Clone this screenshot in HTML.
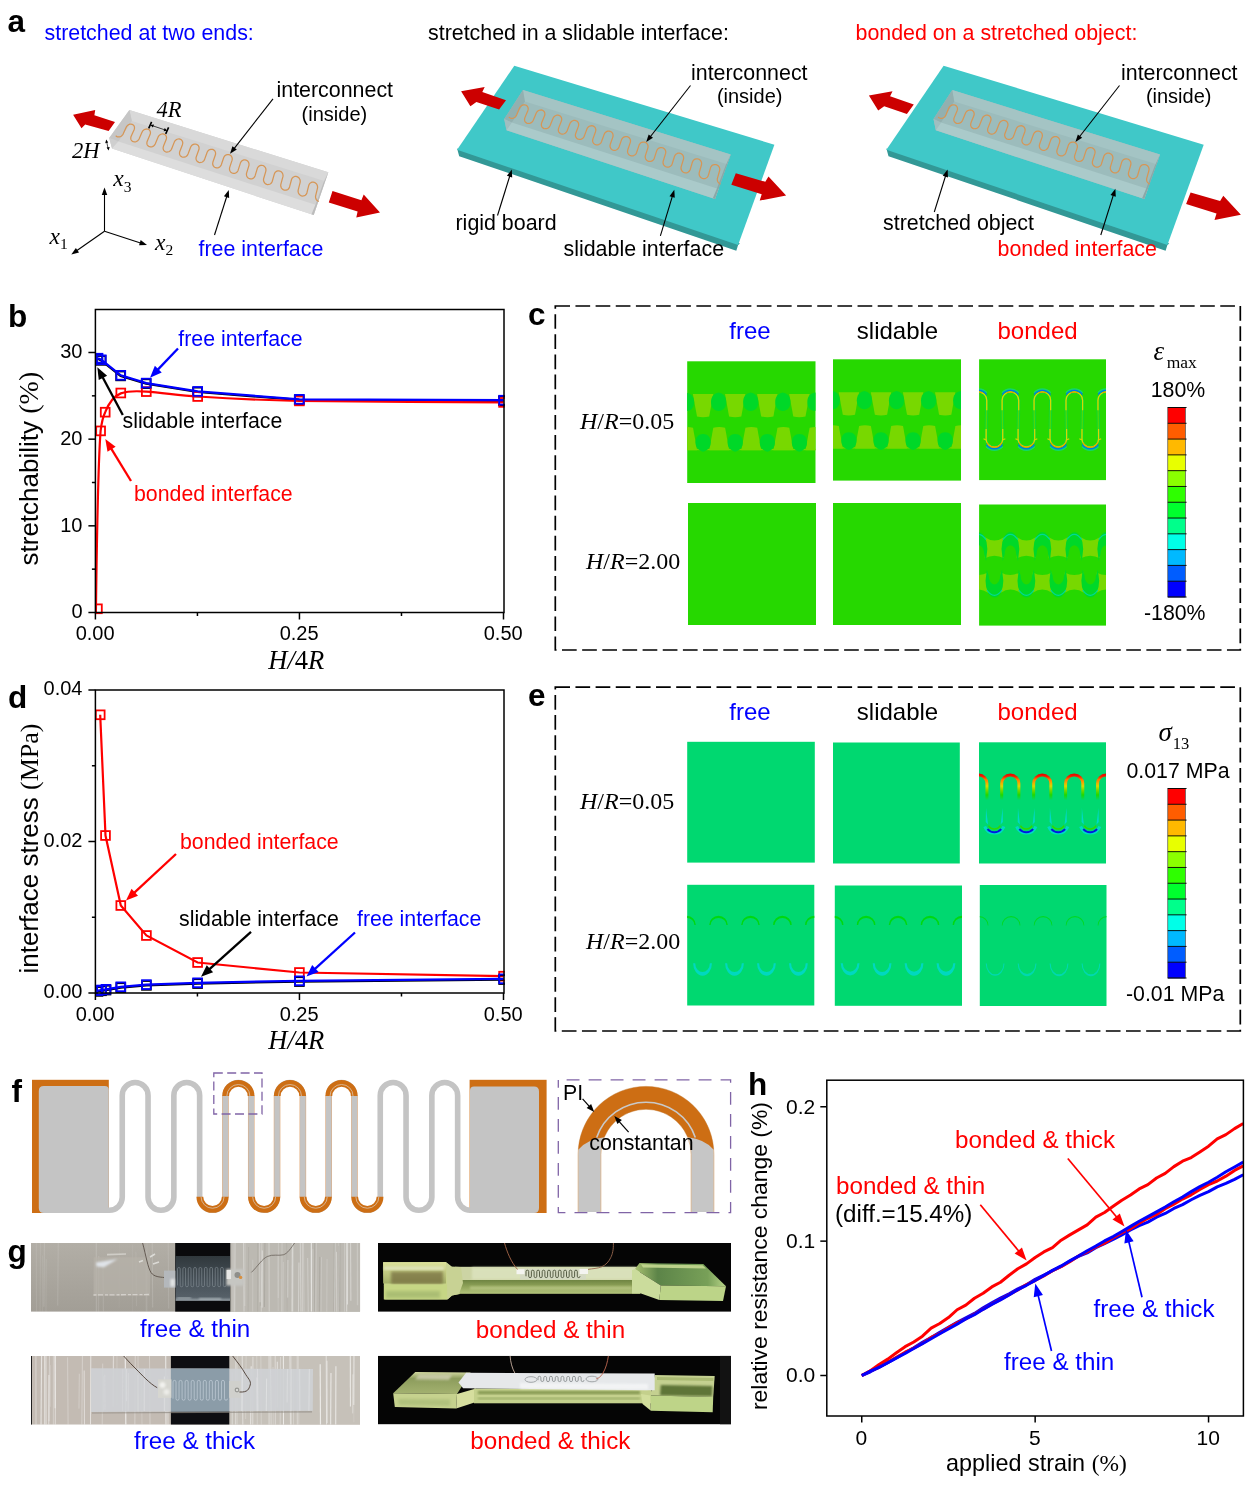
<!DOCTYPE html>
<html lang="en"><head><meta charset="utf-8"><title>Figure</title>
<style>html,body{margin:0;padding:0;background:#fff}svg{display:block}</style></head>
<body>
<svg width="1252" height="1493" viewBox="0 0 1252 1493">
<defs>
<clipPath id="clipb"><rect x="95.4" y="300" width="409.4" height="320"/></clipPath><clipPath id="clipd"><rect x="95.4" y="680" width="409.4" height="320"/></clipPath>
<clipPath id="cliph"><rect x="826.8" y="1080.2" width="416.6" height="335.8"/></clipPath>
<clipPath id="c11"><rect x="687.2" y="361.3" width="128.3" height="121.7"/></clipPath>
<clipPath id="c12"><rect x="833" y="359.3" width="128" height="121.3"/></clipPath>
<clipPath id="c13"><rect x="979.1" y="359.3" width="126.9" height="120.8"/></clipPath>
<clipPath id="c23"><rect x="979.1" y="504.5" width="126.9" height="121.1"/></clipPath>
<linearGradient id="ge13" gradientUnits="userSpaceOnUse" x1="0" y1="773.7" x2="0" y2="800.2"><stop offset="0" stop-color="#e80000"/><stop offset="0.1" stop-color="#f02000"/><stop offset="0.22" stop-color="#ff7800"/><stop offset="0.36" stop-color="#f0b000"/><stop offset="0.47" stop-color="#d8d800"/><stop offset="0.62" stop-color="#78d800"/><stop offset="0.8" stop-color="#20d800"/><stop offset="1" stop-color="#00d870"/></linearGradient>
<clipPath id="e13"><rect x="979" y="742.3" width="127" height="121.2"/></clipPath>
<clipPath id="e21"><rect x="687.2" y="884.8" width="127.1" height="120.7"/></clipPath>
<clipPath id="e22"><rect x="834.8" y="885.5" width="127.2" height="120.3"/></clipPath>
<clipPath id="e23"><rect x="979.8" y="885" width="126.7" height="121"/></clipPath>
<clipPath id="cg1"><rect x="31" y="1243" width="329.2" height="68.8"/></clipPath>
<linearGradient id="g1bg" x1="0" y1="0" x2="0" y2="1"><stop offset="0" stop-color="#b2aea6"/><stop offset="1" stop-color="#a29e96"/></linearGradient>
<linearGradient id="g1film" x1="0" y1="0" x2="0" y2="1"><stop offset="0" stop-color="#30383c"/><stop offset="0.6" stop-color="#48525a"/><stop offset="0.92" stop-color="#566068"/><stop offset="1" stop-color="#98a2a8"/></linearGradient>
<filter id="bl1" x="-20%" y="-20%" width="140%" height="140%"><feGaussianBlur stdDeviation="0.8"/></filter>
<filter id="bl2" x="-20%" y="-20%" width="140%" height="140%"><feGaussianBlur stdDeviation="1.8"/></filter>
<clipPath id="cg2"><rect x="31" y="1355.9" width="329" height="68.8"/></clipPath>
<clipPath id="cg3"><rect x="378" y="1243" width="353" height="68.8"/></clipPath>
<linearGradient id="g3a" x1="0" y1="0" x2="0" y2="1"><stop offset="0" stop-color="#dde29c"/><stop offset="0.35" stop-color="#c8d088"/><stop offset="1" stop-color="#a4b068"/></linearGradient>
<linearGradient id="g3n" x1="0" y1="0" x2="0" y2="1"><stop offset="0" stop-color="#6e8442"/><stop offset="0.45" stop-color="#8ea258"/><stop offset="1" stop-color="#b4c47c"/></linearGradient>
<linearGradient id="g3r" x1="0" y1="0" x2="1" y2="0"><stop offset="0" stop-color="#a8c070"/><stop offset="0.25" stop-color="#5c8448"/><stop offset="0.8" stop-color="#78a058"/><stop offset="1" stop-color="#b8d488"/></linearGradient>
<clipPath id="cg4"><rect x="378" y="1355.8" width="353" height="68.6"/></clipPath>
<linearGradient id="g4a" x1="0" y1="0" x2="0" y2="1"><stop offset="0" stop-color="#d2d8a0"/><stop offset="0.3" stop-color="#8c9c5c"/><stop offset="1" stop-color="#a4b270"/></linearGradient>
</defs>
<rect x="0" y="0" width="1252" height="1493" fill="#fff"/>
<g id="panel_b">
<text x="8" y="327" font-family="'Liberation Sans', Arial, sans-serif" font-size="31.5" fill="#000" font-weight="bold" >b</text>
<g clip-path="url(#clipb)">
<polyline points="97.8,358.8 101.1,360.4 120.6,375.9 146.1,383.7 197.5,392 299.2,399.9 503.4,400.8" fill="none" stroke="#000" stroke-width="2.2"/>
<rect x="93.4" y="354.4" width="8.8" height="8.8" fill="none" stroke="#000" stroke-width="1.8"/>
<rect x="96.7" y="356" width="8.8" height="8.8" fill="none" stroke="#000" stroke-width="1.8"/>
<rect x="116.2" y="371.5" width="8.8" height="8.8" fill="none" stroke="#000" stroke-width="1.8"/>
<rect x="141.7" y="379.3" width="8.8" height="8.8" fill="none" stroke="#000" stroke-width="1.8"/>
<rect x="193.1" y="387.6" width="8.8" height="8.8" fill="none" stroke="#000" stroke-width="1.8"/>
<rect x="294.8" y="395.5" width="8.8" height="8.8" fill="none" stroke="#000" stroke-width="1.8"/>
<rect x="499" y="396.4" width="8.8" height="8.8" fill="none" stroke="#000" stroke-width="1.8"/>
<path d="M95.9,612.5 C96.6,560 97.6,470 100.6,430.9 C101.8,421 103.3,416 105.2,412.2 C108.5,404 114,396 120.8,393.4 C129,390.6 138,391 146.3,391.7 C163,393 180,395.3 197.7,396.5 C231,398.7 265,400.2 299.4,400.9 C360,401.8 440,402.2 503.6,402.4" fill="none" stroke="#ff0000" stroke-width="2.2"/>
<rect x="93" y="604.4" width="8.8" height="8.8" fill="none" stroke="#ff0000" stroke-width="1.8"/>
<rect x="96.2" y="426.5" width="8.8" height="8.8" fill="none" stroke="#ff0000" stroke-width="1.8"/>
<rect x="100.8" y="407.8" width="8.8" height="8.8" fill="none" stroke="#ff0000" stroke-width="1.8"/>
<rect x="116.4" y="388.6" width="8.8" height="8.8" fill="none" stroke="#ff0000" stroke-width="1.8"/>
<rect x="141.9" y="387.2" width="8.8" height="8.8" fill="none" stroke="#ff0000" stroke-width="1.8"/>
<rect x="193.3" y="392.1" width="8.8" height="8.8" fill="none" stroke="#ff0000" stroke-width="1.8"/>
<rect x="295" y="396.5" width="8.8" height="8.8" fill="none" stroke="#ff0000" stroke-width="1.8"/>
<rect x="499.2" y="398" width="8.8" height="8.8" fill="none" stroke="#ff0000" stroke-width="1.8"/>
<polyline points="98,358.2 101.3,359.8 120.8,375.3 146.3,383.1 197.7,391.4 299.4,399.3 503.6,400.2" fill="none" stroke="#0000ff" stroke-width="2.2"/>
<rect x="93.6" y="353.8" width="8.8" height="8.8" fill="none" stroke="#0000ff" stroke-width="1.8"/>
<rect x="96.9" y="355.4" width="8.8" height="8.8" fill="none" stroke="#0000ff" stroke-width="1.8"/>
<rect x="116.4" y="370.9" width="8.8" height="8.8" fill="none" stroke="#0000ff" stroke-width="1.8"/>
<rect x="141.9" y="378.7" width="8.8" height="8.8" fill="none" stroke="#0000ff" stroke-width="1.8"/>
<rect x="193.3" y="387" width="8.8" height="8.8" fill="none" stroke="#0000ff" stroke-width="1.8"/>
<rect x="295" y="394.9" width="8.8" height="8.8" fill="none" stroke="#0000ff" stroke-width="1.8"/>
<rect x="499.2" y="395.8" width="8.8" height="8.8" fill="none" stroke="#0000ff" stroke-width="1.8"/>
</g>
<rect x="95.4" y="309.5" width="408.6" height="303" fill="none" stroke="#000" stroke-width="1.5"/>
<line x1="88.4" y1="612.5" x2="95.4" y2="612.5" stroke="#000" stroke-width="1.5"/>
<text x="82.5" y="618.3" font-family="'Liberation Sans', Arial, sans-serif" font-size="20" fill="#000" text-anchor="end" >0</text>
<line x1="88.4" y1="525.83" x2="95.4" y2="525.83" stroke="#000" stroke-width="1.5"/>
<text x="82.5" y="531.63" font-family="'Liberation Sans', Arial, sans-serif" font-size="20" fill="#000" text-anchor="end" >10</text>
<line x1="88.4" y1="439.16" x2="95.4" y2="439.16" stroke="#000" stroke-width="1.5"/>
<text x="82.5" y="444.96" font-family="'Liberation Sans', Arial, sans-serif" font-size="20" fill="#000" text-anchor="end" >20</text>
<line x1="88.4" y1="352.49" x2="95.4" y2="352.49" stroke="#000" stroke-width="1.5"/>
<text x="82.5" y="358.29" font-family="'Liberation Sans', Arial, sans-serif" font-size="20" fill="#000" text-anchor="end" >30</text>
<line x1="91.9" y1="569.16" x2="95.4" y2="569.16" stroke="#000" stroke-width="1.5"/>
<line x1="91.9" y1="482.5" x2="95.4" y2="482.5" stroke="#000" stroke-width="1.5"/>
<line x1="91.9" y1="395.83" x2="95.4" y2="395.83" stroke="#000" stroke-width="1.5"/>
<line x1="95.4" y1="612.5" x2="95.4" y2="619.5" stroke="#000" stroke-width="1.5"/>
<text x="95.1" y="640.3" font-family="'Liberation Sans', Arial, sans-serif" font-size="20" fill="#000" text-anchor="middle" >0.00</text>
<line x1="299.45" y1="612.5" x2="299.45" y2="619.5" stroke="#000" stroke-width="1.5"/>
<text x="299.15" y="640.3" font-family="'Liberation Sans', Arial, sans-serif" font-size="20" fill="#000" text-anchor="middle" >0.25</text>
<line x1="503.5" y1="612.5" x2="503.5" y2="619.5" stroke="#000" stroke-width="1.5"/>
<text x="503.2" y="640.3" font-family="'Liberation Sans', Arial, sans-serif" font-size="20" fill="#000" text-anchor="middle" >0.50</text>
<line x1="197.43" y1="612.5" x2="197.43" y2="616" stroke="#000" stroke-width="1.5"/>
<line x1="401.48" y1="612.5" x2="401.48" y2="616" stroke="#000" stroke-width="1.5"/>
<text x="268.3" y="668.9" font-family="'Liberation Serif', 'Times New Roman', serif" font-size="26.5" fill="#000"><tspan font-style="italic">H/</tspan>4<tspan font-style="italic">R</tspan></text>
<text transform="translate(38,565.5) rotate(-90)" font-size="26" fill="#000"><tspan font-family="'Liberation Sans', Arial, sans-serif">stretchability </tspan><tspan font-family="'Liberation Serif', 'Times New Roman', serif" font-size="28">(%)</tspan></text>
<text x="178.3" y="346.3" font-family="'Liberation Sans', Arial, sans-serif" font-size="21.3" fill="#0000ff" >free interface</text>
<text x="122.5" y="428" font-family="'Liberation Sans', Arial, sans-serif" font-size="21.3" fill="#000" >slidable interface</text>
<text x="134" y="500.5" font-family="'Liberation Sans', Arial, sans-serif" font-size="21.3" fill="#ff0000" >bonded interface</text>
<line x1="178" y1="348.5" x2="156.63" y2="370.86" stroke="#0000ff" stroke-width="2.3"/><polygon points="150,377.8 154.86,365.84 161.72,372.41" fill="#0000ff"/>
<line x1="122.8" y1="415" x2="101.83" y2="375.77" stroke="#000" stroke-width="2.3"/><polygon points="97.3,367.3 107.15,375.64 98.77,380.12" fill="#000"/>
<line x1="131" y1="481" x2="110.31" y2="447.19" stroke="#ff0000" stroke-width="2.3"/><polygon points="105.3,439 115.61,446.76 107.51,451.71" fill="#ff0000"/>
</g>
<g id="panel_d">
<text x="8" y="708" font-family="'Liberation Sans', Arial, sans-serif" font-size="31.5" fill="#000" font-weight="bold" >d</text>
<g clip-path="url(#clipd)">
<polyline points="100.2,714.8 105.5,835.5 120.8,905.5 146.4,935.5 197.6,962.5 299.4,972.5 503.6,976.2" fill="none" stroke="#ff0000" stroke-width="2.2"/>
<rect x="95.8" y="710.4" width="8.8" height="8.8" fill="none" stroke="#ff0000" stroke-width="1.8"/>
<rect x="101.1" y="831.1" width="8.8" height="8.8" fill="none" stroke="#ff0000" stroke-width="1.8"/>
<rect x="116.4" y="901.1" width="8.8" height="8.8" fill="none" stroke="#ff0000" stroke-width="1.8"/>
<rect x="142" y="931.1" width="8.8" height="8.8" fill="none" stroke="#ff0000" stroke-width="1.8"/>
<rect x="193.2" y="958.1" width="8.8" height="8.8" fill="none" stroke="#ff0000" stroke-width="1.8"/>
<rect x="295" y="968.1" width="8.8" height="8.8" fill="none" stroke="#ff0000" stroke-width="1.8"/>
<rect x="499.2" y="971.8" width="8.8" height="8.8" fill="none" stroke="#ff0000" stroke-width="1.8"/>
<polyline points="98,991.4 101.5,990.8 106,990.1 120.8,987.6 146.4,985.4 197.6,983.6 299.4,981.6 503.6,979.6" fill="none" stroke="#000" stroke-width="2.2"/>
<rect x="93.6" y="987" width="8.8" height="8.8" fill="none" stroke="#000" stroke-width="1.8"/>
<rect x="97.1" y="986.4" width="8.8" height="8.8" fill="none" stroke="#000" stroke-width="1.8"/>
<rect x="101.6" y="985.7" width="8.8" height="8.8" fill="none" stroke="#000" stroke-width="1.8"/>
<rect x="116.4" y="983.2" width="8.8" height="8.8" fill="none" stroke="#000" stroke-width="1.8"/>
<rect x="142" y="981" width="8.8" height="8.8" fill="none" stroke="#000" stroke-width="1.8"/>
<rect x="193.2" y="979.2" width="8.8" height="8.8" fill="none" stroke="#000" stroke-width="1.8"/>
<rect x="295" y="977.2" width="8.8" height="8.8" fill="none" stroke="#000" stroke-width="1.8"/>
<rect x="499.2" y="975.2" width="8.8" height="8.8" fill="none" stroke="#000" stroke-width="1.8"/>
<polyline points="98,990.6 101.5,990 106,989.3 120.8,986.8 146.4,984.6 197.6,982.8 299.4,980.8 503.6,978.8" fill="none" stroke="#0000ff" stroke-width="2.2"/>
<rect x="93.6" y="986.2" width="8.8" height="8.8" fill="none" stroke="#0000ff" stroke-width="1.8"/>
<rect x="97.1" y="985.6" width="8.8" height="8.8" fill="none" stroke="#0000ff" stroke-width="1.8"/>
<rect x="101.6" y="984.9" width="8.8" height="8.8" fill="none" stroke="#0000ff" stroke-width="1.8"/>
<rect x="116.4" y="982.4" width="8.8" height="8.8" fill="none" stroke="#0000ff" stroke-width="1.8"/>
<rect x="142" y="980.2" width="8.8" height="8.8" fill="none" stroke="#0000ff" stroke-width="1.8"/>
<rect x="193.2" y="978.4" width="8.8" height="8.8" fill="none" stroke="#0000ff" stroke-width="1.8"/>
<rect x="295" y="976.4" width="8.8" height="8.8" fill="none" stroke="#0000ff" stroke-width="1.8"/>
<rect x="499.2" y="974.4" width="8.8" height="8.8" fill="none" stroke="#0000ff" stroke-width="1.8"/>
</g>
<rect x="95.4" y="690" width="408.6" height="303" fill="none" stroke="#000" stroke-width="1.5"/>
<line x1="88.4" y1="993" x2="95.4" y2="993" stroke="#000" stroke-width="1.5"/>
<text x="82.5" y="998.2" font-family="'Liberation Sans', Arial, sans-serif" font-size="20" fill="#000" text-anchor="end" >0.00</text>
<line x1="88.4" y1="841.5" x2="95.4" y2="841.5" stroke="#000" stroke-width="1.5"/>
<text x="82.5" y="846.7" font-family="'Liberation Sans', Arial, sans-serif" font-size="20" fill="#000" text-anchor="end" >0.02</text>
<line x1="88.4" y1="690" x2="95.4" y2="690" stroke="#000" stroke-width="1.5"/>
<text x="82.5" y="695.2" font-family="'Liberation Sans', Arial, sans-serif" font-size="20" fill="#000" text-anchor="end" >0.04</text>
<line x1="91.9" y1="917.25" x2="95.4" y2="917.25" stroke="#000" stroke-width="1.5"/>
<line x1="91.9" y1="765.75" x2="95.4" y2="765.75" stroke="#000" stroke-width="1.5"/>
<line x1="95.4" y1="993" x2="95.4" y2="1000" stroke="#000" stroke-width="1.5"/>
<text x="95.1" y="1020.8" font-family="'Liberation Sans', Arial, sans-serif" font-size="20" fill="#000" text-anchor="middle" >0.00</text>
<line x1="299.45" y1="993" x2="299.45" y2="1000" stroke="#000" stroke-width="1.5"/>
<text x="299.15" y="1020.8" font-family="'Liberation Sans', Arial, sans-serif" font-size="20" fill="#000" text-anchor="middle" >0.25</text>
<line x1="503.5" y1="993" x2="503.5" y2="1000" stroke="#000" stroke-width="1.5"/>
<text x="503.2" y="1020.8" font-family="'Liberation Sans', Arial, sans-serif" font-size="20" fill="#000" text-anchor="middle" >0.50</text>
<line x1="197.43" y1="993" x2="197.43" y2="996.5" stroke="#000" stroke-width="1.5"/>
<line x1="401.48" y1="993" x2="401.48" y2="996.5" stroke="#000" stroke-width="1.5"/>
<text x="268.3" y="1049.4" font-family="'Liberation Serif', 'Times New Roman', serif" font-size="26.5" fill="#000"><tspan font-style="italic">H/</tspan>4<tspan font-style="italic">R</tspan></text>
<text transform="translate(37.5,973.5) rotate(-90)" font-size="26" fill="#000"><tspan font-family="'Liberation Sans', Arial, sans-serif">interface stress </tspan><tspan font-family="'Liberation Serif', 'Times New Roman', serif">(MPa)</tspan></text>
<text x="180" y="849.3" font-family="'Liberation Sans', Arial, sans-serif" font-size="21.3" fill="#ff0000" >bonded interface</text>
<text x="179" y="925.5" font-family="'Liberation Sans', Arial, sans-serif" font-size="21.3" fill="#000" >slidable interface</text>
<text x="357" y="925.5" font-family="'Liberation Sans', Arial, sans-serif" font-size="21.3" fill="#0000ff" >free interface</text>
<line x1="176" y1="854" x2="133.03" y2="893.96" stroke="#ff0000" stroke-width="2.3"/><polygon points="126,900.5 131.55,888.85 138.02,895.81" fill="#ff0000"/>
<line x1="251" y1="931.8" x2="208.14" y2="970.38" stroke="#000" stroke-width="2.3"/><polygon points="201,976.8 206.74,965.24 213.1,972.3" fill="#000"/>
<line x1="355" y1="932.5" x2="313.61" y2="970.05" stroke="#0000ff" stroke-width="2.3"/><polygon points="306.5,976.5 312.2,964.92 318.58,971.96" fill="#0000ff"/>
</g>
<g id="panel_h">
<text x="748" y="1095.3" font-family="'Liberation Sans', Arial, sans-serif" font-size="31.5" fill="#000" font-weight="bold" >h</text>
<g clip-path="url(#cliph)">
<polyline points="861.75,1375.5 870.42,1370.82 879.09,1364.49 887.76,1359.14 896.43,1352.69 905.1,1346.67 913.77,1342.03 922.44,1336.14 931.11,1328.13 939.78,1323.51 948.45,1317.58 957.12,1309.76 965.79,1305.07 974.46,1298.25 983.13,1293.2 991.8,1286.92 1000.47,1282.23 1009.14,1275.21 1017.81,1268.81 1026.48,1263.84 1035.15,1257.52 1043.82,1251.92 1052.49,1247.63 1061.16,1240.22 1069.83,1234.9 1078.5,1229.9 1087.17,1224.87 1095.84,1217.19 1104.51,1212.48 1113.18,1206.25 1121.85,1200.24 1130.52,1195.03 1139.19,1188.93 1147.86,1184.61 1156.53,1178.05 1165.2,1173.35 1173.87,1166.61 1182.54,1161.2 1191.21,1157.54 1199.88,1151.92 1208.55,1146.19 1217.22,1138.86 1225.89,1134.61 1234.56,1128.63 1243.23,1123.42" fill="none" stroke="#ff0000" stroke-width="3" stroke-linejoin="round"/>
<polyline points="861.75,1375.5 870.42,1371.76 879.09,1367.16 887.76,1362.65 896.43,1357.86 905.1,1352.69 913.77,1347.7 922.44,1342.35 931.11,1337.57 939.78,1332.31 948.45,1327.41 957.12,1322.31 965.79,1317.73 974.46,1313.39 983.13,1307.79 991.8,1302.86 1000.47,1298.14 1009.14,1293.75 1017.81,1288.88 1026.48,1284.73 1035.15,1279.4 1043.82,1275.05 1052.49,1270.76 1061.16,1266.43 1069.83,1261.04 1078.5,1256.37 1087.17,1252.85 1095.84,1247.62 1104.51,1243.6 1113.18,1239.46 1121.85,1234.91 1130.52,1230.03 1139.19,1225.56 1147.86,1222.11 1156.53,1217.18 1165.2,1213.49 1173.87,1208.48 1182.54,1204.62 1191.21,1199.77 1199.88,1195.41 1208.55,1191.67 1217.22,1186.9 1225.89,1183.41 1234.56,1179.43 1243.23,1174.75" fill="none" stroke="#0000ff" stroke-width="3" stroke-linejoin="round"/>
<polyline points="861.75,1375.5 870.42,1370.91 879.09,1367.25 887.76,1362.32 896.43,1357.26 905.1,1352.17 913.77,1348.12 922.44,1343.51 931.11,1337.38 939.78,1333.47 948.45,1327.63 957.12,1322.93 965.79,1318.97 974.46,1314.05 983.13,1309.17 991.8,1304.19 1000.47,1299.48 1009.14,1294.77 1017.81,1289.89 1026.48,1284.6 1035.15,1280.53 1043.82,1275.88 1052.49,1270.64 1061.16,1266.65 1069.83,1261.77 1078.5,1255.91 1087.17,1251.87 1095.84,1247.06 1104.51,1243.15 1113.18,1237.72 1121.85,1232.68 1130.52,1228.81 1139.19,1223.07 1147.86,1218.27 1156.53,1214.41 1165.2,1208.72 1173.87,1204.2 1182.54,1199.07 1191.21,1194.82 1199.88,1189.46 1208.55,1184.63 1217.22,1181 1225.89,1176.16 1234.56,1170.38 1243.23,1165.88" fill="none" stroke="#ff0000" stroke-width="3" stroke-linejoin="round"/>
<polyline points="861.75,1375.5 870.42,1371.18 879.09,1367.45 887.76,1362.76 896.43,1357.96 905.1,1353.4 913.77,1348.53 922.44,1343.7 931.11,1338.77 939.78,1333.7 948.45,1329.05 957.12,1324.1 965.79,1318.91 974.46,1314.64 983.13,1309.33 991.8,1304.34 1000.47,1299.82 1009.14,1295.04 1017.81,1289.71 1026.48,1285.31 1035.15,1280.49 1043.82,1275.43 1052.49,1270.35 1061.16,1265.96 1069.83,1260.91 1078.5,1256.02 1087.17,1250.73 1095.84,1246.15 1104.51,1240.92 1113.18,1236.57 1121.85,1231.52 1130.52,1226.35 1139.19,1221.23 1147.86,1216.65 1156.53,1211.9 1165.2,1207.04 1173.87,1201.77 1182.54,1197.09 1191.21,1191.64 1199.88,1186.66 1208.55,1182.23 1217.22,1177.19 1225.89,1171.8 1234.56,1166.97 1243.23,1162.12" fill="none" stroke="#0000ff" stroke-width="3" stroke-linejoin="round"/>
</g>
<rect x="826.8" y="1080.2" width="416.6" height="335.8" fill="none" stroke="#000" stroke-width="1.5"/>
<line x1="820.3" y1="1375.5" x2="826.8" y2="1375.5" stroke="#000" stroke-width="1.5"/>
<text x="815.3" y="1382.4" font-family="'Liberation Sans', Arial, sans-serif" font-size="21" fill="#000" text-anchor="end" >0.0</text>
<line x1="820.3" y1="1241.13" x2="826.8" y2="1241.13" stroke="#000" stroke-width="1.5"/>
<text x="815.3" y="1248.03" font-family="'Liberation Sans', Arial, sans-serif" font-size="21" fill="#000" text-anchor="end" >0.1</text>
<line x1="820.3" y1="1106.76" x2="826.8" y2="1106.76" stroke="#000" stroke-width="1.5"/>
<text x="815.3" y="1113.66" font-family="'Liberation Sans', Arial, sans-serif" font-size="21" fill="#000" text-anchor="end" >0.2</text>
<line x1="861.75" y1="1416" x2="861.75" y2="1422.5" stroke="#000" stroke-width="1.5"/>
<text x="861.45" y="1444.8" font-family="'Liberation Sans', Arial, sans-serif" font-size="21" fill="#000" text-anchor="middle" >0</text>
<line x1="1035.15" y1="1416" x2="1035.15" y2="1422.5" stroke="#000" stroke-width="1.5"/>
<text x="1034.85" y="1444.8" font-family="'Liberation Sans', Arial, sans-serif" font-size="21" fill="#000" text-anchor="middle" >5</text>
<line x1="1208.55" y1="1416" x2="1208.55" y2="1422.5" stroke="#000" stroke-width="1.5"/>
<text x="1208.25" y="1444.8" font-family="'Liberation Sans', Arial, sans-serif" font-size="21" fill="#000" text-anchor="middle" >10</text>
<text x="946" y="1470.8" font-size="23.4" fill="#000"><tspan font-family="'Liberation Sans', Arial, sans-serif">applied strain </tspan><tspan font-family="'Liberation Serif', 'Times New Roman', serif">(%)</tspan></text>
<text transform="translate(767,1410) rotate(-90)" font-size="22.9" fill="#000" font-family="'Liberation Sans', Arial, sans-serif">relative resistance change (%)</text>
<text x="955" y="1148.2" font-family="'Liberation Sans', Arial, sans-serif" font-size="24.2" fill="#ff0000" >bonded &amp; thick</text>
<text x="836" y="1194" font-family="'Liberation Sans', Arial, sans-serif" font-size="24.2" fill="#ff0000" >bonded &amp; thin</text>
<text x="835" y="1222.3" font-family="'Liberation Sans', Arial, sans-serif" font-size="24.2" fill="#000" >(diff.=15.4%)</text>
<text x="1093.5" y="1317.3" font-family="'Liberation Sans', Arial, sans-serif" font-size="24.2" fill="#0000ff" >free &amp; thick</text>
<text x="1004" y="1370.3" font-family="'Liberation Sans', Arial, sans-serif" font-size="24.2" fill="#0000ff" >free &amp; thin</text>
<line x1="980.3" y1="1204.8" x2="1019.95" y2="1252.5" stroke="#ff0000" stroke-width="1.7"/><polygon points="1026.6,1260.5 1014.64,1253.54 1021.94,1247.47" fill="#ff0000"/>
<line x1="1067.8" y1="1158.5" x2="1117.84" y2="1218.51" stroke="#ff0000" stroke-width="1.7"/><polygon points="1124.5,1226.5 1112.53,1219.56 1119.82,1213.47" fill="#ff0000"/>
<line x1="1142" y1="1297.3" x2="1128.4" y2="1239.92" stroke="#0000ff" stroke-width="1.7"/><polygon points="1126,1229.8 1133.62,1241.35 1124.38,1243.55" fill="#0000ff"/>
<line x1="1051.5" y1="1351" x2="1037.73" y2="1293.61" stroke="#0000ff" stroke-width="1.7"/><polygon points="1035.3,1283.5 1042.95,1295.03 1033.72,1297.25" fill="#0000ff"/>
</g>
<g id="panel_a">
<text x="7.5" y="32" font-family="'Liberation Sans', Arial, sans-serif" font-size="31.5" fill="#000" font-weight="bold" >a</text>
<text x="44.5" y="40" font-family="'Liberation Sans', Arial, sans-serif" font-size="21.4" fill="#0000ff" >stretched at two ends:</text>
<text x="428" y="40" font-family="'Liberation Sans', Arial, sans-serif" font-size="21.4" fill="#000" >stretched in a slidable interface:</text>
<text x="855.5" y="40" font-family="'Liberation Sans', Arial, sans-serif" font-size="21.4" fill="#ff0000" >bonded on a stretched object:</text>
<polygon points="129.4,110.1 328.3,172.2 313.7,215.1 112,148.6 109.2,138" fill="#d1d1d1" />
<polygon points="129.4,110.1 328.3,172.2 325.2,181.2 131.9,121" fill="#d9d9d9" />
<polygon points="129.4,110.1 131.9,121 118.4,141.4 109.2,138" fill="#c6c6c6" />
<polygon points="109.2,138 118.4,141.4 112,148.6" fill="#cfcfcf" />
<polygon points="118.4,141.4 317,205.3 313.7,215.1 112,148.6" fill="#dddddd" />
<polygon points="328.3,172.2 313.7,215.1 311.5,214.3 315.4,204.7 323.4,182.7" fill="#bcbcbc" />
<path d="M116.09,136.05 L116.53,136.39 L117.02,136.65 L117.56,136.84 L118.13,136.94 L118.73,136.97 L119.33,136.91 L119.94,136.76 L120.53,136.54 L121.1,136.24 L121.63,135.87 L122.12,135.44 L122.55,134.95 L122.92,134.42 L123.22,133.86 L126.2,127.24 L126.71,126.35 L127.39,125.56 L128.22,124.92 L129.13,124.45 L130.1,124.19 L131.08,124.14 L132,124.3 L132.83,124.67 L133.53,125.23 L134.06,125.96 L134.39,126.8 L134.52,127.74 L134.42,128.7 L134.11,129.66 L131.16,136.29 L130.85,137.25 L130.75,138.22 L130.88,139.15 L131.23,140 L131.77,140.74 L132.49,141.31 L133.34,141.69 L134.28,141.86 L135.26,141.82 L136.24,141.56 L137.17,141.1 L137.99,140.46 L138.67,139.67 L139.18,138.77 L142.07,132.11 L142.57,131.21 L143.25,130.42 L144.07,129.77 L144.99,129.31 L145.95,129.04 L146.93,128.99 L147.86,129.16 L148.7,129.54 L149.41,130.11 L149.96,130.84 L150.31,131.7 L150.45,132.64 L150.37,133.61 L150.07,134.58 L147.23,141.27 L146.94,142.24 L146.86,143.22 L147.01,144.16 L147.37,145.02 L147.93,145.76 L148.65,146.34 L149.51,146.73 L150.46,146.91 L151.45,146.86 L152.43,146.6 L153.35,146.14 L154.16,145.49 L154.83,144.7 L155.32,143.8 L158.11,137.07 L158.6,136.16 L159.26,135.37 L160.07,134.72 L160.98,134.25 L161.95,133.98 L162.92,133.93 L163.86,134.11 L164.71,134.49 L165.44,135.06 L165.99,135.8 L166.36,136.67 L166.52,137.62 L166.46,138.61 L166.18,139.58 L163.44,146.34 L163.17,147.31 L163.11,148.3 L163.27,149.25 L163.65,150.12 L164.22,150.87 L164.96,151.46 L165.83,151.85 L166.78,152.03 L167.77,151.99 L168.75,151.73 L169.67,151.26 L170.47,150.61 L171.13,149.81 L171.6,148.9 L174.28,142.11 L174.76,141.2 L175.41,140.4 L176.21,139.74 L177.12,139.27 L178.08,139 L179.06,138.96 L180,139.13 L180.87,139.52 L181.6,140.1 L182.17,140.85 L182.56,141.73 L182.73,142.69 L182.69,143.68 L182.42,144.66 L179.8,151.48 L179.54,152.46 L179.5,153.46 L179.68,154.43 L180.07,155.31 L180.66,156.06 L181.41,156.66 L182.29,157.05 L183.25,157.24 L184.24,157.2 L185.22,156.94 L186.13,156.47 L186.92,155.82 L187.57,155.01 L188.03,154.09 L190.6,147.24 L191.06,146.32 L191.7,145.51 L192.49,144.85 L193.39,144.38 L194.36,144.11 L195.34,144.06 L196.29,144.24 L197.16,144.64 L197.91,145.23 L198.49,145.98 L198.89,146.87 L199.08,147.84 L199.06,148.84 L198.81,149.83 L196.3,156.71 L196.05,157.7 L196.02,158.71 L196.22,159.68 L196.63,160.57 L197.23,161.34 L198,161.94 L198.89,162.34 L199.85,162.53 L200.85,162.49 L201.82,162.23 L202.73,161.76 L203.52,161.1 L204.15,160.29 L204.6,159.36 L207.06,152.45 L207.5,151.52 L208.13,150.7 L208.91,150.04 L209.81,149.56 L210.77,149.3 L211.76,149.25 L212.71,149.44 L213.59,149.83 L214.35,150.43 L214.96,151.2 L215.37,152.09 L215.58,153.07 L215.57,154.09 L215.34,155.08 L212.93,162.02 L212.7,163.02 L212.69,164.04 L212.91,165.02 L213.34,165.92 L213.95,166.7 L214.73,167.3 L215.63,167.71 L216.6,167.9 L217.6,167.87 L218.57,167.61 L219.47,167.13 L220.25,166.47 L220.87,165.65 L221.3,164.71 L223.65,157.74 L224.09,156.8 L224.7,155.98 L225.48,155.31 L226.37,154.83 L227.33,154.57 L228.32,154.52 L229.28,154.71 L230.17,155.12 L230.94,155.72 L231.56,156.49 L231.99,157.4 L232.22,158.39 L232.22,159.41 L232.01,160.42 L229.71,167.42 L229.5,168.43 L229.51,169.45 L229.74,170.44 L230.18,171.35 L230.81,172.14 L231.6,172.75 L232.51,173.17 L233.49,173.36 L234.49,173.33 L235.46,173.06 L236.35,172.59 L237.12,171.92 L237.73,171.09 L238.15,170.15 L240.39,163.12 L240.81,162.17 L241.42,161.34 L242.18,160.67 L243.07,160.19 L244.03,159.92 L245.02,159.88 L245.98,160.07 L246.88,160.48 L247.67,161.09 L248.3,161.87 L248.75,162.79 L248.99,163.78 L249.01,164.82 L248.82,165.83 L246.63,172.9 L246.43,173.91 L246.46,174.95 L246.71,175.95 L247.17,176.87 L247.81,177.66 L248.61,178.28 L249.53,178.7 L250.52,178.9 L251.52,178.87 L252.49,178.61 L253.38,178.13 L254.14,177.45 L254.74,176.62 L255.14,175.67 L257.27,168.57 L257.68,167.62 L258.27,166.79 L259.03,166.11 L259.91,165.62 L260.87,165.35 L261.86,165.32 L262.83,165.51 L263.74,165.93 L264.54,166.55 L265.19,167.34 L265.65,168.26 L265.91,169.27 L265.95,170.31 L265.77,171.33 L263.69,178.46 L263.51,179.48 L263.55,180.53 L263.82,181.54 L264.29,182.47 L264.95,183.27 L265.77,183.89 L266.69,184.32 L267.69,184.52 L268.69,184.49 L269.66,184.23 L270.54,183.75 L271.3,183.07 L271.88,182.23 L272.27,181.27 L274.3,174.12 L274.68,173.16 L275.27,172.31 L276.01,171.63 L276.89,171.14 L277.85,170.87 L278.84,170.84 L279.82,171.03 L280.74,171.46 L281.55,172.08 L282.21,172.88 L282.69,173.81 L282.97,174.83 L283.03,175.88 L282.86,176.92 L280.89,184.1 L280.73,185.13 L280.79,186.19 L281.07,187.21 L281.56,188.15 L282.24,188.95 L283.06,189.59 L284,190.02 L285,190.23 L286,190.2 L286.97,189.94 L287.85,189.45 L288.59,188.77 L289.17,187.92 L289.54,186.95 L291.46,179.74 L291.83,178.77 L292.4,177.92 L293.14,177.24 L294.01,176.74 L294.97,176.47 L295.96,176.44 L296.95,176.64 L297.88,177.07 L298.7,177.7 L299.38,178.51 L299.88,179.45 L300.17,180.48 L300.24,181.54 L300.09,182.58 L298.23,189.83 L298.08,190.87 L298.16,191.93 L298.46,192.96 L298.97,193.91 L299.66,194.73 L300.5,195.37 L301.44,195.81 L302.45,196.02 L303.46,195.99 L304.42,195.72 L305.3,195.24 L306.03,194.55 L306.6,193.69 L306.96,192.72 L308.76,185.45 L309.12,184.47 L309.68,183.61 L310.41,182.92 L311.27,182.43 L312.23,182.16 L313.23,182.12 L314.22,182.33 L315.16,182.76 L315.99,183.4 L316.68,184.22 L317.19,185.17 L317.5,186.2 L317.59,187.27 L317.45,188.32 L315.67,195.61 L315.54,196.42 L315.55,197.25 L315.7,198.08 L315.97,198.87 L316.37,199.61 L316.88,200.27 L317.49,200.84 L318.17,201.29" fill="none" stroke="#d69656" stroke-width="1.25" stroke-linejoin="round" stroke-linecap="round"/>
<polygon points="73.1,114.8 95.2,110.1 94.4,115.2 115,121.9 108.6,131.1 85.2,124.4 81.5,128.2" fill="#cc0000" />
<polygon points="380,212.6 356.3,217.6 357.6,211.5 328.8,202.6 332.5,191.1 361.4,200.3 363.7,194.5" fill="#cc0000" />
<text x="276.5" y="97" font-family="'Liberation Sans', Arial, sans-serif" font-size="21.4" fill="#000" >interconnect</text>
<text x="301.6" y="121.3" font-family="'Liberation Sans', Arial, sans-serif" font-size="20" fill="#000" >(inside)</text>
<text x="198.5" y="256" font-family="'Liberation Sans', Arial, sans-serif" font-size="21.4" fill="#0000ff" >free interface</text>
<line x1="273" y1="98.8" x2="233.7" y2="149.07" stroke="#000" stroke-width="1.1"/><polygon points="230,153.8 232.45,146.2 236.79,149.59" fill="#000"/>
<line x1="214.5" y1="235" x2="226.98" y2="195.72" stroke="#000" stroke-width="1.1"/><polygon points="228.8,190 229.15,197.98 223.91,196.31" fill="#000"/>
<text x="156.5" y="117" font-family="'Liberation Serif', 'Times New Roman', serif" font-size="22.5" fill="#000" font-style="italic" >4R</text>
<text x="72" y="158" font-family="'Liberation Serif', 'Times New Roman', serif" font-size="22.5" fill="#000" font-style="italic" >2H</text>
<path d="M151.6,121.8 L148.7,128.3 M168.6,127.3 L165.7,133.8" stroke="#000" stroke-width="1.6" fill="none"/>
<line x1="151.5" y1="125.4" x2="165.8" y2="130.2" stroke="#000" stroke-width="0.7"/>
<polygon points="150.4,125 154,124.4 152.9,127.6" fill="#000" />
<polygon points="167.2,130.7 163.6,131.2 164.7,128" fill="#000" />
<line x1="106.6" y1="141.5" x2="108.2" y2="149" stroke="#000" stroke-width="0.7"/>
<polygon points="106.2,139.6 108.2,142.6 105.2,143.2" fill="#000" />
<polygon points="108.6,150.6 106.6,147.6 109.7,147" fill="#000" />
<line x1="104.5" y1="231.3" x2="104.5" y2="193.5" stroke="#000" stroke-width="1.1"/><polygon points="104.5,187.5 107.25,195 101.75,195" fill="#000"/>
<line x1="104.5" y1="231.3" x2="76.22" y2="251.06" stroke="#000" stroke-width="1.1"/><polygon points="71.3,254.5 75.87,247.95 79.02,252.46" fill="#000"/>
<line x1="104.5" y1="231.3" x2="141.29" y2="243.16" stroke="#000" stroke-width="1.1"/><polygon points="147,245 139.02,245.32 140.71,240.08" fill="#000"/>
<text x="113.2" y="186.3" font-family="'Liberation Serif', 'Times New Roman', serif" font-size="23.5" fill="#000"><tspan font-style="italic">x</tspan><tspan font-size="15.5" dy="5.3">3</tspan></text>
<text x="49.5" y="243.8" font-family="'Liberation Serif', 'Times New Roman', serif" font-size="23.5" fill="#000"><tspan font-style="italic">x</tspan><tspan font-size="15.5" dy="5.3">1</tspan></text>
<text x="155" y="250" font-family="'Liberation Serif', 'Times New Roman', serif" font-size="23.5" fill="#000"><tspan font-style="italic">x</tspan><tspan font-size="15.5" dy="5.3">2</tspan></text>
<polygon points="457.1,148.6 740,243.4 738.1,244.9 736.3,250.7 459.2,156.2" fill="#329896" />
<polygon points="514.3,65.7 774.4,144.7 738.1,244.9 457.1,149.8" fill="#40c8c8" />
<polygon points="522.95,90.1 730.7,154.6 715,199 506.5,130.3 504.2,119.1" fill="#9cbcbc" />
<polygon points="522.95,90.1 730.7,154.6 727.3,164.2 524.9,101.5" fill="#a4c4c4" />
<polygon points="522.95,90.1 524.9,101.5 511.8,122.5 504.2,119.1" fill="#92b0b0" />
<polygon points="504.2,119.1 511.8,122.5 506.5,130.3" fill="#a0bec0" />
<polygon points="511.8,122.5 718.6,188.9 715,199 506.5,130.3" fill="#aacaca" />
<polygon points="730.7,154.6 715,199 712.8,198.2 717,188.3 725.5,165.7" fill="#8aa8a8" /><path d="M509.23,117.36 L509.7,117.71 L510.22,117.99 L510.79,118.19 L511.39,118.3 L512.01,118.33 L512.64,118.27 L513.26,118.12 L513.87,117.88 L514.46,117.57 L515,117.18 L515.5,116.73 L515.94,116.21 L516.31,115.66 L516.6,115.06 L519.53,108.08 L520.05,107.15 L520.74,106.32 L521.58,105.64 L522.52,105.15 L523.52,104.88 L524.53,104.82 L525.5,105 L526.38,105.39 L527.12,105.99 L527.68,106.75 L528.05,107.64 L528.2,108.63 L528.12,109.64 L527.82,110.65 L524.91,117.63 L524.61,118.64 L524.53,119.66 L524.68,120.64 L525.06,121.54 L525.64,122.31 L526.39,122.91 L527.28,123.31 L528.26,123.49 L529.28,123.44 L530.29,123.17 L531.24,122.68 L532.08,122.01 L532.78,121.18 L533.28,120.24 L536.16,113.23 L536.66,112.29 L537.35,111.46 L538.19,110.78 L539.13,110.29 L540.14,110.02 L541.15,109.97 L542.12,110.14 L543.01,110.54 L543.76,111.14 L544.34,111.91 L544.72,112.81 L544.88,113.79 L544.82,114.82 L544.53,115.83 L541.69,122.85 L541.4,123.86 L541.34,124.89 L541.51,125.87 L541.89,126.78 L542.49,127.55 L543.25,128.16 L544.15,128.56 L545.13,128.74 L546.16,128.7 L547.17,128.42 L548.12,127.94 L548.96,127.26 L549.64,126.43 L550.14,125.48 L552.94,118.44 L553.43,117.49 L554.11,116.66 L554.94,115.98 L555.89,115.49 L556.89,115.21 L557.91,115.16 L558.89,115.34 L559.78,115.75 L560.55,116.35 L561.14,117.12 L561.53,118.03 L561.71,119.02 L561.66,120.05 L561.38,121.06 L558.62,128.12 L558.34,129.14 L558.29,130.17 L558.47,131.17 L558.88,132.07 L559.48,132.85 L560.25,133.46 L561.16,133.87 L562.15,134.06 L563.18,134.01 L564.2,133.74 L565.15,133.25 L565.98,132.57 L566.65,131.73 L567.14,130.78 L569.86,123.7 L570.35,122.75 L571.02,121.92 L571.85,121.23 L572.79,120.74 L573.79,120.47 L574.82,120.42 L575.8,120.6 L576.71,121.01 L577.48,121.61 L578.09,122.39 L578.49,123.3 L578.68,124.3 L578.64,125.34 L578.38,126.36 L575.69,133.45 L575.43,134.48 L575.39,135.51 L575.59,136.51 L576,137.43 L576.62,138.21 L577.4,138.83 L578.32,139.24 L579.32,139.43 L580.35,139.38 L581.37,139.11 L582.31,138.62 L583.14,137.94 L583.81,137.1 L584.29,136.14 L586.93,129.03 L587.41,128.07 L588.07,127.23 L588.9,126.55 L589.83,126.05 L590.84,125.78 L591.87,125.73 L592.86,125.91 L593.78,126.32 L594.56,126.94 L595.18,127.72 L595.6,128.64 L595.8,129.64 L595.78,130.68 L595.52,131.71 L592.91,138.84 L592.66,139.87 L592.64,140.91 L592.84,141.92 L593.27,142.84 L593.9,143.63 L594.7,144.25 L595.62,144.66 L596.63,144.85 L597.67,144.81 L598.69,144.54 L599.63,144.05 L600.45,143.36 L601.11,142.52 L601.58,141.56 L604.15,134.41 L604.61,133.45 L605.27,132.6 L606.09,131.91 L607.03,131.42 L608.04,131.14 L609.07,131.1 L610.07,131.28 L610.99,131.7 L611.79,132.31 L612.42,133.1 L612.85,134.03 L613.07,135.04 L613.05,136.09 L612.81,137.12 L610.28,144.29 L610.04,145.32 L610.03,146.37 L610.25,147.38 L610.69,148.31 L611.33,149.1 L612.14,149.72 L613.07,150.14 L614.09,150.34 L615.13,150.3 L616.15,150.02 L617.09,149.53 L617.91,148.84 L618.56,147.99 L619.02,147.03 L621.51,139.84 L621.96,138.88 L622.62,138.03 L623.43,137.34 L624.36,136.84 L625.37,136.57 L626.41,136.52 L627.42,136.71 L628.35,137.13 L629.16,137.75 L629.8,138.55 L630.25,139.47 L630.48,140.49 L630.48,141.54 L630.24,142.58 L627.79,149.79 L627.56,150.82 L627.56,151.88 L627.8,152.9 L628.25,153.83 L628.9,154.63 L629.72,155.26 L630.67,155.68 L631.69,155.88 L632.74,155.84 L633.76,155.56 L634.69,155.07 L635.51,154.38 L636.15,153.53 L636.6,152.56 L639.02,145.33 L639.46,144.36 L640.11,143.51 L640.91,142.82 L641.85,142.32 L642.86,142.05 L643.9,142 L644.91,142.2 L645.85,142.62 L646.67,143.24 L647.33,144.04 L647.79,144.98 L648.03,146 L648.04,147.06 L647.82,148.1 L645.45,155.34 L645.23,156.39 L645.24,157.45 L645.49,158.47 L645.96,159.41 L646.62,160.22 L647.46,160.85 L648.41,161.27 L649.44,161.47 L650.49,161.43 L651.51,161.16 L652.45,160.67 L653.25,159.97 L653.89,159.12 L654.33,158.14 L656.67,150.88 L657.1,149.91 L657.74,149.05 L658.54,148.36 L659.48,147.86 L660.49,147.58 L661.53,147.54 L662.55,147.74 L663.5,148.16 L664.33,148.79 L665,149.6 L665.48,150.54 L665.73,151.57 L665.76,152.63 L665.55,153.68 L663.25,160.96 L663.04,162.01 L663.07,163.07 L663.33,164.1 L663.81,165.05 L664.49,165.86 L665.33,166.49 L666.3,166.92 L667.33,167.13 L668.39,167.09 L669.41,166.82 L670.34,166.32 L671.15,165.62 L671.78,164.77 L672.2,163.79 L674.47,156.49 L674.89,155.51 L675.52,154.65 L676.32,153.95 L677.25,153.45 L678.26,153.18 L679.31,153.14 L680.34,153.34 L681.3,153.76 L682.14,154.4 L682.82,155.21 L683.31,156.16 L683.58,157.19 L683.62,158.26 L683.42,159.32 L681.2,166.63 L681,167.68 L681.04,168.75 L681.31,169.79 L681.81,170.74 L682.5,171.56 L683.35,172.2 L684.33,172.63 L685.37,172.84 L686.43,172.8 L687.45,172.53 L688.38,172.03 L689.18,171.33 L689.81,170.47 L690.22,169.49 L692.41,162.15 L692.82,161.17 L693.45,160.31 L694.24,159.61 L695.17,159.11 L696.18,158.83 L697.23,158.79 L698.27,158.99 L699.24,159.42 L700.09,160.06 L700.78,160.88 L701.29,161.83 L701.57,162.87 L701.62,163.95 L701.43,165.01 L699.29,172.36 L699.1,173.42 L699.16,174.49 L699.44,175.54 L699.95,176.49 L700.66,177.31 L701.52,177.96 L702.5,178.4 L703.55,178.6 L704.62,178.57 L705.64,178.3 L706.57,177.8 L707.36,177.1 L707.98,176.23 L708.39,175.24 L710.5,167.87 L710.9,166.88 L711.52,166.02 L712.31,165.32 L713.23,164.81 L714.25,164.54 L715.3,164.5 L716.35,164.7 L717.32,165.14 L718.19,165.78 L718.89,166.6 L719.41,167.56 L719.7,168.61 L719.76,169.69 L719.58,170.75 L717.49,178.13 L717.34,178.95 L717.32,179.79 L717.45,180.63 L717.72,181.43 L718.12,182.17 L718.64,182.84 L719.26,183.41 L719.97,183.86" fill="none" stroke="#d69656" stroke-width="1.25" stroke-linejoin="round" stroke-linecap="round"/>
<polygon points="461.1,91.2 484.7,87 482.3,91.9 506,100.3 499.1,109.6 476.4,101.9 470.4,106.2" fill="#cc0000" />
<polygon points="786.1,195.5 759.7,200.6 761.7,194.2 731.3,184.7 735.8,173.2 765.3,181.8 768.5,176.4" fill="#cc0000" />
<text x="691" y="80" font-family="'Liberation Sans', Arial, sans-serif" font-size="21.4" fill="#000" >interconnect</text>
<text x="716.9" y="103.3" font-family="'Liberation Sans', Arial, sans-serif" font-size="20" fill="#000" >(inside)</text>
<text x="455.5" y="230" font-family="'Liberation Sans', Arial, sans-serif" font-size="21.4" fill="#000" >rigid board</text>
<text x="563.5" y="256" font-family="'Liberation Sans', Arial, sans-serif" font-size="21.4" fill="#000" >slidable interface</text>
<line x1="690.5" y1="85.5" x2="649.9" y2="137.28" stroke="#000" stroke-width="1.1"/><polygon points="646.2,142 648.66,134.4 652.99,137.79" fill="#000"/>
<line x1="497.5" y1="215.5" x2="510.02" y2="175.23" stroke="#000" stroke-width="1.1"/><polygon points="511.8,169.5 512.2,177.48 506.95,175.85" fill="#000"/>
<line x1="660.4" y1="235.8" x2="672.56" y2="195.54" stroke="#000" stroke-width="1.1"/><polygon points="674.3,189.8 674.76,197.77 669.5,196.18" fill="#000"/>
<polygon points="886.4,148.6 1169.3,243.4 1167.4,244.9 1165.6,250.7 888.5,156.2" fill="#329896" />
<polygon points="943.6,65.7 1203.7,144.7 1167.4,244.9 886.4,149.8" fill="#40c8c8" />
<polygon points="952.25,90.1 1160,154.6 1144.3,199 935.8,130.3 933.5,119.1" fill="#9cbcbc" />
<polygon points="952.25,90.1 1160,154.6 1156.6,164.2 954.2,101.5" fill="#a4c4c4" />
<polygon points="952.25,90.1 954.2,101.5 941.1,122.5 933.5,119.1" fill="#92b0b0" />
<polygon points="933.5,119.1 941.1,122.5 935.8,130.3" fill="#a0bec0" />
<polygon points="941.1,122.5 1147.9,188.9 1144.3,199 935.8,130.3" fill="#aacaca" />
<polygon points="1160,154.6 1144.3,199 1142.1,198.2 1146.3,188.3 1154.8,165.7" fill="#8aa8a8" /><path d="M938.53,117.36 L939,117.71 L939.52,117.99 L940.09,118.19 L940.69,118.3 L941.31,118.33 L941.94,118.27 L942.56,118.12 L943.17,117.88 L943.76,117.57 L944.3,117.18 L944.8,116.73 L945.24,116.21 L945.61,115.66 L945.9,115.06 L948.83,108.08 L949.35,107.15 L950.04,106.32 L950.88,105.64 L951.82,105.15 L952.82,104.88 L953.83,104.82 L954.8,105 L955.68,105.39 L956.42,105.99 L956.98,106.75 L957.35,107.64 L957.5,108.63 L957.42,109.64 L957.12,110.65 L954.21,117.63 L953.91,118.64 L953.83,119.66 L953.98,120.64 L954.36,121.54 L954.94,122.31 L955.69,122.91 L956.58,123.31 L957.56,123.49 L958.58,123.44 L959.59,123.17 L960.54,122.68 L961.38,122.01 L962.08,121.18 L962.58,120.24 L965.46,113.23 L965.96,112.29 L966.65,111.46 L967.49,110.78 L968.43,110.29 L969.44,110.02 L970.45,109.97 L971.42,110.14 L972.31,110.54 L973.06,111.14 L973.64,111.91 L974.02,112.81 L974.18,113.79 L974.12,114.82 L973.83,115.83 L970.99,122.85 L970.7,123.86 L970.64,124.89 L970.81,125.87 L971.19,126.78 L971.79,127.55 L972.55,128.16 L973.45,128.56 L974.43,128.74 L975.46,128.7 L976.47,128.42 L977.42,127.94 L978.26,127.26 L978.94,126.43 L979.44,125.48 L982.24,118.44 L982.73,117.49 L983.41,116.66 L984.24,115.98 L985.19,115.49 L986.19,115.21 L987.21,115.16 L988.19,115.34 L989.08,115.75 L989.85,116.35 L990.44,117.12 L990.83,118.03 L991.01,119.02 L990.96,120.05 L990.68,121.06 L987.92,128.12 L987.64,129.14 L987.59,130.17 L987.77,131.17 L988.18,132.07 L988.78,132.85 L989.55,133.46 L990.46,133.87 L991.45,134.06 L992.48,134.01 L993.5,133.74 L994.45,133.25 L995.28,132.57 L995.95,131.73 L996.44,130.78 L999.16,123.7 L999.65,122.75 L1000.32,121.92 L1001.15,121.23 L1002.09,120.74 L1003.09,120.47 L1004.12,120.42 L1005.1,120.6 L1006.01,121.01 L1006.78,121.61 L1007.39,122.39 L1007.79,123.3 L1007.98,124.3 L1007.94,125.34 L1007.68,126.36 L1004.99,133.45 L1004.73,134.48 L1004.69,135.51 L1004.89,136.51 L1005.3,137.43 L1005.92,138.21 L1006.7,138.83 L1007.62,139.24 L1008.62,139.43 L1009.65,139.38 L1010.67,139.11 L1011.61,138.62 L1012.44,137.94 L1013.11,137.1 L1013.59,136.14 L1016.23,129.03 L1016.71,128.07 L1017.37,127.23 L1018.2,126.55 L1019.13,126.05 L1020.14,125.78 L1021.17,125.73 L1022.16,125.91 L1023.08,126.32 L1023.86,126.94 L1024.48,127.72 L1024.9,128.64 L1025.1,129.64 L1025.08,130.68 L1024.82,131.71 L1022.21,138.84 L1021.96,139.87 L1021.94,140.91 L1022.14,141.92 L1022.57,142.84 L1023.2,143.63 L1024,144.25 L1024.92,144.66 L1025.93,144.85 L1026.97,144.81 L1027.99,144.54 L1028.93,144.05 L1029.75,143.36 L1030.41,142.52 L1030.88,141.56 L1033.45,134.41 L1033.91,133.45 L1034.57,132.6 L1035.39,131.91 L1036.33,131.42 L1037.34,131.14 L1038.37,131.1 L1039.37,131.28 L1040.29,131.7 L1041.09,132.31 L1041.72,133.1 L1042.15,134.03 L1042.37,135.04 L1042.35,136.09 L1042.11,137.12 L1039.58,144.29 L1039.34,145.32 L1039.33,146.37 L1039.55,147.38 L1039.99,148.31 L1040.63,149.1 L1041.44,149.72 L1042.37,150.14 L1043.39,150.34 L1044.43,150.3 L1045.45,150.02 L1046.39,149.53 L1047.21,148.84 L1047.86,147.99 L1048.32,147.03 L1050.81,139.84 L1051.26,138.88 L1051.92,138.03 L1052.73,137.34 L1053.66,136.84 L1054.67,136.57 L1055.71,136.52 L1056.72,136.71 L1057.65,137.13 L1058.46,137.75 L1059.1,138.55 L1059.55,139.47 L1059.78,140.49 L1059.78,141.54 L1059.54,142.58 L1057.09,149.79 L1056.86,150.82 L1056.86,151.88 L1057.1,152.9 L1057.55,153.83 L1058.2,154.63 L1059.02,155.26 L1059.97,155.68 L1060.99,155.88 L1062.04,155.84 L1063.06,155.56 L1063.99,155.07 L1064.81,154.38 L1065.45,153.53 L1065.9,152.56 L1068.32,145.33 L1068.76,144.36 L1069.41,143.51 L1070.21,142.82 L1071.15,142.32 L1072.16,142.05 L1073.2,142 L1074.21,142.2 L1075.15,142.62 L1075.97,143.24 L1076.63,144.04 L1077.09,144.98 L1077.33,146 L1077.34,147.06 L1077.12,148.1 L1074.75,155.34 L1074.53,156.39 L1074.54,157.45 L1074.79,158.47 L1075.26,159.41 L1075.92,160.22 L1076.76,160.85 L1077.71,161.27 L1078.74,161.47 L1079.79,161.43 L1080.81,161.16 L1081.75,160.67 L1082.55,159.97 L1083.19,159.12 L1083.63,158.14 L1085.97,150.88 L1086.4,149.91 L1087.04,149.05 L1087.84,148.36 L1088.78,147.86 L1089.79,147.58 L1090.83,147.54 L1091.85,147.74 L1092.8,148.16 L1093.63,148.79 L1094.3,149.6 L1094.78,150.54 L1095.03,151.57 L1095.06,152.63 L1094.85,153.68 L1092.55,160.96 L1092.34,162.01 L1092.37,163.07 L1092.63,164.1 L1093.11,165.05 L1093.79,165.86 L1094.63,166.49 L1095.6,166.92 L1096.63,167.13 L1097.69,167.09 L1098.71,166.82 L1099.64,166.32 L1100.45,165.62 L1101.08,164.77 L1101.5,163.79 L1103.77,156.49 L1104.19,155.51 L1104.82,154.65 L1105.62,153.95 L1106.55,153.45 L1107.56,153.18 L1108.61,153.14 L1109.64,153.34 L1110.6,153.76 L1111.44,154.4 L1112.12,155.21 L1112.61,156.16 L1112.88,157.19 L1112.92,158.26 L1112.72,159.32 L1110.5,166.63 L1110.3,167.68 L1110.34,168.75 L1110.61,169.79 L1111.11,170.74 L1111.8,171.56 L1112.65,172.2 L1113.63,172.63 L1114.67,172.84 L1115.73,172.8 L1116.75,172.53 L1117.68,172.03 L1118.48,171.33 L1119.11,170.47 L1119.52,169.49 L1121.71,162.15 L1122.12,161.17 L1122.75,160.31 L1123.54,159.61 L1124.47,159.11 L1125.48,158.83 L1126.53,158.79 L1127.57,158.99 L1128.54,159.42 L1129.39,160.06 L1130.08,160.88 L1130.59,161.83 L1130.87,162.87 L1130.92,163.95 L1130.73,165.01 L1128.59,172.36 L1128.4,173.42 L1128.46,174.49 L1128.74,175.54 L1129.25,176.49 L1129.96,177.31 L1130.82,177.96 L1131.8,178.4 L1132.85,178.6 L1133.92,178.57 L1134.94,178.3 L1135.87,177.8 L1136.66,177.1 L1137.28,176.23 L1137.69,175.24 L1139.8,167.87 L1140.2,166.88 L1140.82,166.02 L1141.61,165.32 L1142.53,164.81 L1143.55,164.54 L1144.6,164.5 L1145.65,164.7 L1146.62,165.14 L1147.49,165.78 L1148.19,166.6 L1148.71,167.56 L1149,168.61 L1149.06,169.69 L1148.88,170.75 L1146.79,178.13 L1146.64,178.95 L1146.62,179.79 L1146.75,180.63 L1147.02,181.43 L1147.42,182.17 L1147.94,182.84 L1148.56,183.41 L1149.27,183.86" fill="none" stroke="#d69656" stroke-width="1.25" stroke-linejoin="round" stroke-linecap="round"/>
<polygon points="868.9,95.5 892.5,91.3 890.1,96.2 913.8,104.6 906.9,113.9 884.2,106.2 878.2,110.5" fill="#cc0000" />
<polygon points="1240.9,214.8 1214.5,219.9 1216.5,213.5 1186.1,204 1190.6,192.5 1220.1,201.1 1223.3,195.7" fill="#cc0000" />
<text x="1121" y="80" font-family="'Liberation Sans', Arial, sans-serif" font-size="21.4" fill="#000" >interconnect</text>
<text x="1145.9" y="103.3" font-family="'Liberation Sans', Arial, sans-serif" font-size="20" fill="#000" >(inside)</text>
<text x="883" y="230" font-family="'Liberation Sans', Arial, sans-serif" font-size="21.4" fill="#000" >stretched object</text>
<text x="997.5" y="256" font-family="'Liberation Sans', Arial, sans-serif" font-size="21.4" fill="#ff0000" >bonded interface</text>
<line x1="1119.5" y1="85.5" x2="1079.09" y2="137.27" stroke="#000" stroke-width="1.1"/><polygon points="1075.4,142 1077.85,134.4 1082.18,137.78" fill="#000"/>
<line x1="934.3" y1="212" x2="945.81" y2="175.13" stroke="#000" stroke-width="1.1"/><polygon points="947.6,169.4 947.99,177.38 942.74,175.74" fill="#000"/>
<line x1="1100.8" y1="235" x2="1113.6" y2="194.42" stroke="#000" stroke-width="1.1"/><polygon points="1115.4,188.7 1115.77,196.68 1110.52,195.03" fill="#000"/>
</g>
<g id="panel_c">
<text x="528" y="325" font-family="'Liberation Sans', Arial, sans-serif" font-size="31.5" fill="#000" font-weight="bold" >c</text>
<rect x="555.3" y="306" width="685" height="344" fill="none" stroke="#000" stroke-width="1.7" stroke-dasharray="14.7 5.45"/>
<text x="729.3" y="338.8" font-family="'Liberation Sans', Arial, sans-serif" font-size="24" fill="#0000ff" >free</text>
<text x="856.8" y="338.8" font-family="'Liberation Sans', Arial, sans-serif" font-size="24" fill="#000" >slidable</text>
<text x="997.5" y="338.8" font-family="'Liberation Sans', Arial, sans-serif" font-size="24" fill="#ff0000" >bonded</text>
<text x="580" y="428.8" font-family="'Liberation Serif', 'Times New Roman', serif" font-size="24" fill="#000"><tspan font-style="italic">H</tspan>/<tspan font-style="italic">R</tspan>=0.05</text>
<text x="586" y="568.8" font-family="'Liberation Serif', 'Times New Roman', serif" font-size="24" fill="#000"><tspan font-style="italic">H</tspan>/<tspan font-style="italic">R</tspan>=2.00</text>
<rect x="687.2" y="361.3" width="128.3" height="121.7" fill="#26d800"/><g clip-path="url(#c11)"><path d="M660.8,393.9 L681.2,393.9 L677.1,416.4 Q671,418 664.9,416.4 Z" fill="#78d800"/><path d="M645,450.2 L649.1,427.8 Q655,426.2 660.9,427.8 L665,450.2 Z" fill="#78d800"/><path d="M692.9,393.9 L713.3,393.9 L709.2,416.4 Q703.1,418 697,416.4 Z" fill="#78d800"/><path d="M677.1,450.2 L681.2,427.8 Q687.1,426.2 693,427.8 L697.1,450.2 Z" fill="#78d800"/><path d="M725,393.9 L745.4,393.9 L741.3,416.4 Q735.2,418 729.1,416.4 Z" fill="#78d800"/><path d="M709.2,450.2 L713.3,427.8 Q719.2,426.2 725.1,427.8 L729.2,450.2 Z" fill="#78d800"/><path d="M757.1,393.9 L777.5,393.9 L773.4,416.4 Q767.3,418 761.2,416.4 Z" fill="#78d800"/><path d="M741.3,450.2 L745.4,427.8 Q751.3,426.2 757.2,427.8 L761.3,450.2 Z" fill="#78d800"/><path d="M789.2,393.9 L809.6,393.9 L805.5,416.4 Q799.4,418 793.3,416.4 Z" fill="#78d800"/><path d="M773.4,450.2 L777.5,427.8 Q783.4,426.2 789.3,427.8 L793.4,450.2 Z" fill="#78d800"/><path d="M821.3,393.9 L841.7,393.9 L837.6,416.4 Q831.5,418 825.4,416.4 Z" fill="#78d800"/><path d="M805.5,450.2 L809.6,427.8 Q815.5,426.2 821.4,427.8 L825.5,450.2 Z" fill="#78d800"/><path d="M853.4,393.9 L873.8,393.9 L869.7,416.4 Q863.6,418 857.5,416.4 Z" fill="#78d800"/><path d="M837.6,450.2 L841.7,427.8 Q847.6,426.2 853.5,427.8 L857.6,450.2 Z" fill="#78d800"/><rect x="685.2" y="448.9" width="140" height="1.3" fill="#78d800"/><path d="M654.4,392.6 C658.9,393.3 662,396.9 662,401.9 C662,407.4 658.9,410.9 654.4,410.9 C649.9,410.9 646.8,407.4 646.8,401.9 C646.8,396.9 649.9,393.3 654.4,392.6 Z" fill="#00d828"/><path d="M671,451.8 C675.5,450.5 678.6,447.5 678.6,442.5 C678.6,437 675.5,433.9 671,433.9 C666.5,433.9 663.4,437 663.4,442.5 C663.4,447.5 666.5,450.5 671,451.8 Z" fill="#00d828"/><path d="M686.5,392.6 C691,393.3 694.1,396.9 694.1,401.9 C694.1,407.4 691,410.9 686.5,410.9 C682,410.9 678.9,407.4 678.9,401.9 C678.9,396.9 682,393.3 686.5,392.6 Z" fill="#00d828"/><path d="M703.1,451.8 C707.6,450.5 710.7,447.5 710.7,442.5 C710.7,437 707.6,433.9 703.1,433.9 C698.6,433.9 695.5,437 695.5,442.5 C695.5,447.5 698.6,450.5 703.1,451.8 Z" fill="#00d828"/><path d="M718.6,392.6 C723.1,393.3 726.2,396.9 726.2,401.9 C726.2,407.4 723.1,410.9 718.6,410.9 C714.1,410.9 711,407.4 711,401.9 C711,396.9 714.1,393.3 718.6,392.6 Z" fill="#00d828"/><path d="M735.2,451.8 C739.7,450.5 742.8,447.5 742.8,442.5 C742.8,437 739.7,433.9 735.2,433.9 C730.7,433.9 727.6,437 727.6,442.5 C727.6,447.5 730.7,450.5 735.2,451.8 Z" fill="#00d828"/><path d="M750.7,392.6 C755.2,393.3 758.3,396.9 758.3,401.9 C758.3,407.4 755.2,410.9 750.7,410.9 C746.2,410.9 743.1,407.4 743.1,401.9 C743.1,396.9 746.2,393.3 750.7,392.6 Z" fill="#00d828"/><path d="M767.3,451.8 C771.8,450.5 774.9,447.5 774.9,442.5 C774.9,437 771.8,433.9 767.3,433.9 C762.8,433.9 759.7,437 759.7,442.5 C759.7,447.5 762.8,450.5 767.3,451.8 Z" fill="#00d828"/><path d="M782.8,392.6 C787.3,393.3 790.4,396.9 790.4,401.9 C790.4,407.4 787.3,410.9 782.8,410.9 C778.3,410.9 775.2,407.4 775.2,401.9 C775.2,396.9 778.3,393.3 782.8,392.6 Z" fill="#00d828"/><path d="M799.4,451.8 C803.9,450.5 807,447.5 807,442.5 C807,437 803.9,433.9 799.4,433.9 C794.9,433.9 791.8,437 791.8,442.5 C791.8,447.5 794.9,450.5 799.4,451.8 Z" fill="#00d828"/><path d="M814.9,392.6 C819.4,393.3 822.5,396.9 822.5,401.9 C822.5,407.4 819.4,410.9 814.9,410.9 C810.4,410.9 807.3,407.4 807.3,401.9 C807.3,396.9 810.4,393.3 814.9,392.6 Z" fill="#00d828"/><path d="M831.5,451.8 C836,450.5 839.1,447.5 839.1,442.5 C839.1,437 836,433.9 831.5,433.9 C827,433.9 823.9,437 823.9,442.5 C823.9,447.5 827,450.5 831.5,451.8 Z" fill="#00d828"/><path d="M847,392.6 C851.5,393.3 854.6,396.9 854.6,401.9 C854.6,407.4 851.5,410.9 847,410.9 C842.5,410.9 839.4,407.4 839.4,401.9 C839.4,396.9 842.5,393.3 847,392.6 Z" fill="#00d828"/><path d="M863.6,451.8 C868.1,450.5 871.2,447.5 871.2,442.5 C871.2,437 868.1,433.9 863.6,433.9 C859.1,433.9 856,437 856,442.5 C856,447.5 859.1,450.5 863.6,451.8 Z" fill="#00d828"/></g>
<rect x="833" y="359.3" width="128" height="121.3" fill="#26d800"/><g clip-path="url(#c12)"><path d="M806.6,392.2 L827,392.2 L822.9,414.7 Q816.8,416.3 810.7,414.7 Z" fill="#78d800"/><path d="M790.8,448.5 L794.9,426.1 Q800.8,424.5 806.7,426.1 L810.8,448.5 Z" fill="#78d800"/><path d="M838.7,392.2 L859.1,392.2 L855,414.7 Q848.9,416.3 842.8,414.7 Z" fill="#78d800"/><path d="M822.9,448.5 L827,426.1 Q832.9,424.5 838.8,426.1 L842.9,448.5 Z" fill="#78d800"/><path d="M870.8,392.2 L891.2,392.2 L887.1,414.7 Q881,416.3 874.9,414.7 Z" fill="#78d800"/><path d="M855,448.5 L859.1,426.1 Q865,424.5 870.9,426.1 L875,448.5 Z" fill="#78d800"/><path d="M902.9,392.2 L923.3,392.2 L919.2,414.7 Q913.1,416.3 907,414.7 Z" fill="#78d800"/><path d="M887.1,448.5 L891.2,426.1 Q897.1,424.5 903,426.1 L907.1,448.5 Z" fill="#78d800"/><path d="M935,392.2 L955.4,392.2 L951.3,414.7 Q945.2,416.3 939.1,414.7 Z" fill="#78d800"/><path d="M919.2,448.5 L923.3,426.1 Q929.2,424.5 935.1,426.1 L939.2,448.5 Z" fill="#78d800"/><path d="M967.1,392.2 L987.5,392.2 L983.4,414.7 Q977.3,416.3 971.2,414.7 Z" fill="#78d800"/><path d="M951.3,448.5 L955.4,426.1 Q961.3,424.5 967.2,426.1 L971.3,448.5 Z" fill="#78d800"/><path d="M999.2,392.2 L1019.6,392.2 L1015.5,414.7 Q1009.4,416.3 1003.3,414.7 Z" fill="#78d800"/><path d="M983.4,448.5 L987.5,426.1 Q993.4,424.5 999.3,426.1 L1003.4,448.5 Z" fill="#78d800"/><rect x="831" y="447.2" width="140" height="1.3" fill="#78d800"/><path d="M800.2,390.9 C804.7,391.6 807.8,395.2 807.8,400.2 C807.8,405.7 804.7,409.2 800.2,409.2 C795.7,409.2 792.6,405.7 792.6,400.2 C792.6,395.2 795.7,391.6 800.2,390.9 Z" fill="#00d828"/><path d="M816.8,450.1 C821.3,448.8 824.4,445.8 824.4,440.8 C824.4,435.3 821.3,432.2 816.8,432.2 C812.3,432.2 809.2,435.3 809.2,440.8 C809.2,445.8 812.3,448.8 816.8,450.1 Z" fill="#00d828"/><path d="M832.3,390.9 C836.8,391.6 839.9,395.2 839.9,400.2 C839.9,405.7 836.8,409.2 832.3,409.2 C827.8,409.2 824.7,405.7 824.7,400.2 C824.7,395.2 827.8,391.6 832.3,390.9 Z" fill="#00d828"/><path d="M848.9,450.1 C853.4,448.8 856.5,445.8 856.5,440.8 C856.5,435.3 853.4,432.2 848.9,432.2 C844.4,432.2 841.3,435.3 841.3,440.8 C841.3,445.8 844.4,448.8 848.9,450.1 Z" fill="#00d828"/><path d="M864.4,390.9 C868.9,391.6 872,395.2 872,400.2 C872,405.7 868.9,409.2 864.4,409.2 C859.9,409.2 856.8,405.7 856.8,400.2 C856.8,395.2 859.9,391.6 864.4,390.9 Z" fill="#00d828"/><path d="M881,450.1 C885.5,448.8 888.6,445.8 888.6,440.8 C888.6,435.3 885.5,432.2 881,432.2 C876.5,432.2 873.4,435.3 873.4,440.8 C873.4,445.8 876.5,448.8 881,450.1 Z" fill="#00d828"/><path d="M896.5,390.9 C901,391.6 904.1,395.2 904.1,400.2 C904.1,405.7 901,409.2 896.5,409.2 C892,409.2 888.9,405.7 888.9,400.2 C888.9,395.2 892,391.6 896.5,390.9 Z" fill="#00d828"/><path d="M913.1,450.1 C917.6,448.8 920.7,445.8 920.7,440.8 C920.7,435.3 917.6,432.2 913.1,432.2 C908.6,432.2 905.5,435.3 905.5,440.8 C905.5,445.8 908.6,448.8 913.1,450.1 Z" fill="#00d828"/><path d="M928.6,390.9 C933.1,391.6 936.2,395.2 936.2,400.2 C936.2,405.7 933.1,409.2 928.6,409.2 C924.1,409.2 921,405.7 921,400.2 C921,395.2 924.1,391.6 928.6,390.9 Z" fill="#00d828"/><path d="M945.2,450.1 C949.7,448.8 952.8,445.8 952.8,440.8 C952.8,435.3 949.7,432.2 945.2,432.2 C940.7,432.2 937.6,435.3 937.6,440.8 C937.6,445.8 940.7,448.8 945.2,450.1 Z" fill="#00d828"/><path d="M960.7,390.9 C965.2,391.6 968.3,395.2 968.3,400.2 C968.3,405.7 965.2,409.2 960.7,409.2 C956.2,409.2 953.1,405.7 953.1,400.2 C953.1,395.2 956.2,391.6 960.7,390.9 Z" fill="#00d828"/><path d="M977.3,450.1 C981.8,448.8 984.9,445.8 984.9,440.8 C984.9,435.3 981.8,432.2 977.3,432.2 C972.8,432.2 969.7,435.3 969.7,440.8 C969.7,445.8 972.8,448.8 977.3,450.1 Z" fill="#00d828"/><path d="M992.8,390.9 C997.3,391.6 1000.4,395.2 1000.4,400.2 C1000.4,405.7 997.3,409.2 992.8,409.2 C988.3,409.2 985.2,405.7 985.2,400.2 C985.2,395.2 988.3,391.6 992.8,390.9 Z" fill="#00d828"/><path d="M1009.4,450.1 C1013.9,448.8 1017,445.8 1017,440.8 C1017,435.3 1013.9,432.2 1009.4,432.2 C1004.9,432.2 1001.8,435.3 1001.8,440.8 C1001.8,445.8 1004.9,448.8 1009.4,450.1 Z" fill="#00d828"/></g>
<rect x="979.1" y="359.3" width="126.9" height="120.8" fill="#26d800"/><g clip-path="url(#c13)"><path d="M954.8,400.2 L954.18,438.9 A8.3 8.3 0 0 0 970.77,438.9 L970.15,400.2 A8.3 8.3 0 0 1 986.75,400.2 L986.13,438.9 A8.3 8.3 0 0 0 1002.73,438.9 L1002.1,400.2 A8.3 8.3 0 0 1 1018.7,400.2 L1018.08,438.9 A8.3 8.3 0 0 0 1034.67,438.9 L1034.05,400.2 A8.3 8.3 0 0 1 1050.65,400.2 L1050.03,438.9 A8.3 8.3 0 0 0 1066.62,438.9 L1066,400.2 A8.3 8.3 0 0 1 1082.6,400.2 L1081.97,438.9 A8.3 8.3 0 0 0 1098.57,438.9 L1097.95,400.2 A8.3 8.3 0 0 1 1114.55,400.2 L1113.92,438.9 A8.3 8.3 0 0 0 1130.52,438.9" fill="none" stroke="#00d850" stroke-width="3.2" opacity="0.55"/><path d="M954.8,400.2 L954.18,438.9 A8.3 8.3 0 0 0 970.77,438.9 L970.15,400.2 A8.3 8.3 0 0 1 986.75,400.2 L986.13,438.9 A8.3 8.3 0 0 0 1002.73,438.9 L1002.1,400.2 A8.3 8.3 0 0 1 1018.7,400.2 L1018.08,438.9 A8.3 8.3 0 0 0 1034.67,438.9 L1034.05,400.2 A8.3 8.3 0 0 1 1050.65,400.2 L1050.03,438.9 A8.3 8.3 0 0 0 1066.62,438.9 L1066,400.2 A8.3 8.3 0 0 1 1082.6,400.2 L1081.97,438.9 A8.3 8.3 0 0 0 1098.57,438.9 L1097.95,400.2 A8.3 8.3 0 0 1 1114.55,400.2 L1113.92,438.9 A8.3 8.3 0 0 0 1130.52,438.9" fill="none" stroke="#5cd800" stroke-width="1.2" opacity="0.9"/><path d="M938.4,392.91 A10.9 10.9 0 0 1 954.6,392.91" fill="none" stroke="#00d8c0" stroke-width="2.2" opacity="0.55"/><path d="M938.39,394.52 A9.9 9.9 0 0 1 954.61,394.52" fill="none" stroke="#0070f0" stroke-width="1.3"/><path d="M970.58,446.19 A10.9 10.9 0 0 1 954.37,446.19" fill="none" stroke="#00d8c0" stroke-width="2.2" opacity="0.55"/><path d="M970.58,444.58 A9.9 9.9 0 0 1 954.37,444.58" fill="none" stroke="#0070f0" stroke-width="1.3"/><path d="M938.2,410.2 L938.2,400.2 A8.3 8.3 0 0 1 954.8,400.2 L954.8,410.2" fill="none" stroke="#d8d800" stroke-width="1.25"/><path d="M954.18,428.9 L954.18,438.9 A8.3 8.3 0 0 0 970.77,438.9 L970.77,428.9" fill="none" stroke="#d8d800" stroke-width="1.25"/><path d="M942.35,393.01 A8.3 8.3 0 0 1 950.65,393.01" fill="none" stroke="#f09000" stroke-width="1.0"/><path d="M970,442.41 A8.3 8.3 0 0 1 954.95,442.41" fill="none" stroke="#f09000" stroke-width="1.0"/><path d="M954.18,439.9 l-2.6,-1.2 M970.77,439.9 l2.6,-1.2" stroke="#d8d800" stroke-width="1.1" fill="none"/><path d="M970.35,392.91 A10.9 10.9 0 0 1 986.55,392.91" fill="none" stroke="#00d8c0" stroke-width="2.2" opacity="0.55"/><path d="M970.34,394.52 A9.9 9.9 0 0 1 986.56,394.52" fill="none" stroke="#0070f0" stroke-width="1.3"/><path d="M1002.53,446.19 A10.9 10.9 0 0 1 986.32,446.19" fill="none" stroke="#00d8c0" stroke-width="2.2" opacity="0.55"/><path d="M1002.53,444.58 A9.9 9.9 0 0 1 986.32,444.58" fill="none" stroke="#0070f0" stroke-width="1.3"/><path d="M970.15,410.2 L970.15,400.2 A8.3 8.3 0 0 1 986.75,400.2 L986.75,410.2" fill="none" stroke="#d8d800" stroke-width="1.25"/><path d="M986.13,428.9 L986.13,438.9 A8.3 8.3 0 0 0 1002.73,438.9 L1002.73,428.9" fill="none" stroke="#d8d800" stroke-width="1.25"/><path d="M974.3,393.01 A8.3 8.3 0 0 1 982.6,393.01" fill="none" stroke="#f09000" stroke-width="1.0"/><path d="M1001.95,442.41 A8.3 8.3 0 0 1 986.9,442.41" fill="none" stroke="#f09000" stroke-width="1.0"/><path d="M986.13,439.9 l-2.6,-1.2 M1002.73,439.9 l2.6,-1.2" stroke="#d8d800" stroke-width="1.1" fill="none"/><path d="M1002.3,392.91 A10.9 10.9 0 0 1 1018.5,392.91" fill="none" stroke="#00d8c0" stroke-width="2.2" opacity="0.55"/><path d="M1002.29,394.52 A9.9 9.9 0 0 1 1018.51,394.52" fill="none" stroke="#0070f0" stroke-width="1.3"/><path d="M1034.48,446.19 A10.9 10.9 0 0 1 1018.27,446.19" fill="none" stroke="#00d8c0" stroke-width="2.2" opacity="0.55"/><path d="M1034.48,444.58 A9.9 9.9 0 0 1 1018.27,444.58" fill="none" stroke="#0070f0" stroke-width="1.3"/><path d="M1002.1,410.2 L1002.1,400.2 A8.3 8.3 0 0 1 1018.7,400.2 L1018.7,410.2" fill="none" stroke="#d8d800" stroke-width="1.25"/><path d="M1018.08,428.9 L1018.08,438.9 A8.3 8.3 0 0 0 1034.67,438.9 L1034.67,428.9" fill="none" stroke="#d8d800" stroke-width="1.25"/><path d="M1006.25,393.01 A8.3 8.3 0 0 1 1014.55,393.01" fill="none" stroke="#f09000" stroke-width="1.0"/><path d="M1033.9,442.41 A8.3 8.3 0 0 1 1018.85,442.41" fill="none" stroke="#f09000" stroke-width="1.0"/><path d="M1018.08,439.9 l-2.6,-1.2 M1034.67,439.9 l2.6,-1.2" stroke="#d8d800" stroke-width="1.1" fill="none"/><path d="M1034.25,392.91 A10.9 10.9 0 0 1 1050.45,392.91" fill="none" stroke="#00d8c0" stroke-width="2.2" opacity="0.55"/><path d="M1034.24,394.52 A9.9 9.9 0 0 1 1050.46,394.52" fill="none" stroke="#0070f0" stroke-width="1.3"/><path d="M1066.43,446.19 A10.9 10.9 0 0 1 1050.22,446.19" fill="none" stroke="#00d8c0" stroke-width="2.2" opacity="0.55"/><path d="M1066.43,444.58 A9.9 9.9 0 0 1 1050.22,444.58" fill="none" stroke="#0070f0" stroke-width="1.3"/><path d="M1034.05,410.2 L1034.05,400.2 A8.3 8.3 0 0 1 1050.65,400.2 L1050.65,410.2" fill="none" stroke="#d8d800" stroke-width="1.25"/><path d="M1050.03,428.9 L1050.03,438.9 A8.3 8.3 0 0 0 1066.62,438.9 L1066.62,428.9" fill="none" stroke="#d8d800" stroke-width="1.25"/><path d="M1038.2,393.01 A8.3 8.3 0 0 1 1046.5,393.01" fill="none" stroke="#f09000" stroke-width="1.0"/><path d="M1065.85,442.41 A8.3 8.3 0 0 1 1050.8,442.41" fill="none" stroke="#f09000" stroke-width="1.0"/><path d="M1050.03,439.9 l-2.6,-1.2 M1066.62,439.9 l2.6,-1.2" stroke="#d8d800" stroke-width="1.1" fill="none"/><path d="M1066.2,392.91 A10.9 10.9 0 0 1 1082.4,392.91" fill="none" stroke="#00d8c0" stroke-width="2.2" opacity="0.55"/><path d="M1066.19,394.52 A9.9 9.9 0 0 1 1082.41,394.52" fill="none" stroke="#0070f0" stroke-width="1.3"/><path d="M1098.38,446.19 A10.9 10.9 0 0 1 1082.17,446.19" fill="none" stroke="#00d8c0" stroke-width="2.2" opacity="0.55"/><path d="M1098.38,444.58 A9.9 9.9 0 0 1 1082.17,444.58" fill="none" stroke="#0070f0" stroke-width="1.3"/><path d="M1066,410.2 L1066,400.2 A8.3 8.3 0 0 1 1082.6,400.2 L1082.6,410.2" fill="none" stroke="#d8d800" stroke-width="1.25"/><path d="M1081.97,428.9 L1081.97,438.9 A8.3 8.3 0 0 0 1098.57,438.9 L1098.57,428.9" fill="none" stroke="#d8d800" stroke-width="1.25"/><path d="M1070.15,393.01 A8.3 8.3 0 0 1 1078.45,393.01" fill="none" stroke="#f09000" stroke-width="1.0"/><path d="M1097.8,442.41 A8.3 8.3 0 0 1 1082.75,442.41" fill="none" stroke="#f09000" stroke-width="1.0"/><path d="M1081.97,439.9 l-2.6,-1.2 M1098.57,439.9 l2.6,-1.2" stroke="#d8d800" stroke-width="1.1" fill="none"/><path d="M1098.15,392.91 A10.9 10.9 0 0 1 1114.35,392.91" fill="none" stroke="#00d8c0" stroke-width="2.2" opacity="0.55"/><path d="M1098.14,394.52 A9.9 9.9 0 0 1 1114.36,394.52" fill="none" stroke="#0070f0" stroke-width="1.3"/><path d="M1130.33,446.19 A10.9 10.9 0 0 1 1114.12,446.19" fill="none" stroke="#00d8c0" stroke-width="2.2" opacity="0.55"/><path d="M1130.33,444.58 A9.9 9.9 0 0 1 1114.12,444.58" fill="none" stroke="#0070f0" stroke-width="1.3"/><path d="M1097.95,410.2 L1097.95,400.2 A8.3 8.3 0 0 1 1114.55,400.2 L1114.55,410.2" fill="none" stroke="#d8d800" stroke-width="1.25"/><path d="M1113.92,428.9 L1113.92,438.9 A8.3 8.3 0 0 0 1130.52,438.9 L1130.52,428.9" fill="none" stroke="#d8d800" stroke-width="1.25"/><path d="M1102.1,393.01 A8.3 8.3 0 0 1 1110.4,393.01" fill="none" stroke="#f09000" stroke-width="1.0"/><path d="M1129.75,442.41 A8.3 8.3 0 0 1 1114.7,442.41" fill="none" stroke="#f09000" stroke-width="1.0"/><path d="M1113.92,439.9 l-2.6,-1.2 M1130.52,439.9 l2.6,-1.2" stroke="#d8d800" stroke-width="1.1" fill="none"/><path d="M1130.1,392.91 A10.9 10.9 0 0 1 1146.3,392.91" fill="none" stroke="#00d8c0" stroke-width="2.2" opacity="0.55"/><path d="M1130.09,394.52 A9.9 9.9 0 0 1 1146.31,394.52" fill="none" stroke="#0070f0" stroke-width="1.3"/><path d="M1162.28,446.19 A10.9 10.9 0 0 1 1146.07,446.19" fill="none" stroke="#00d8c0" stroke-width="2.2" opacity="0.55"/><path d="M1162.28,444.58 A9.9 9.9 0 0 1 1146.07,444.58" fill="none" stroke="#0070f0" stroke-width="1.3"/><path d="M1129.9,410.2 L1129.9,400.2 A8.3 8.3 0 0 1 1146.5,400.2 L1146.5,410.2" fill="none" stroke="#d8d800" stroke-width="1.25"/><path d="M1145.88,428.9 L1145.88,438.9 A8.3 8.3 0 0 0 1162.47,438.9 L1162.47,428.9" fill="none" stroke="#d8d800" stroke-width="1.25"/><path d="M1134.05,393.01 A8.3 8.3 0 0 1 1142.35,393.01" fill="none" stroke="#f09000" stroke-width="1.0"/><path d="M1161.7,442.41 A8.3 8.3 0 0 1 1146.65,442.41" fill="none" stroke="#f09000" stroke-width="1.0"/><path d="M1145.88,439.9 l-2.6,-1.2 M1162.47,439.9 l2.6,-1.2" stroke="#d8d800" stroke-width="1.1" fill="none"/></g>
<rect x="688" y="503" width="128" height="122" fill="#26d800"/>
<rect x="833" y="503" width="128" height="122" fill="#26d800"/>
<rect x="979.1" y="504.5" width="126.9" height="121.1" fill="#26d800"/><g clip-path="url(#c23)"><path d="M952.88,537.3 Q962.48,543.9 972.08,537.3 L972.08,558.3 Q962.48,553.2 952.88,558.3 Z" fill="#78d800"/><path d="M936.9,572.4 Q946.5,577.5 956.1,572.4 L956.1,592.8 Q946.5,586.2 936.9,592.8 Z" fill="#78d800"/><path d="M984.83,537.3 Q994.43,543.9 1004.03,537.3 L1004.03,558.3 Q994.43,553.2 984.83,558.3 Z" fill="#78d800"/><path d="M968.85,572.4 Q978.45,577.5 988.05,572.4 L988.05,592.8 Q978.45,586.2 968.85,592.8 Z" fill="#78d800"/><path d="M1016.77,537.3 Q1026.38,543.9 1035.97,537.3 L1035.97,558.3 Q1026.38,553.2 1016.77,558.3 Z" fill="#78d800"/><path d="M1000.8,572.4 Q1010.4,577.5 1020,572.4 L1020,592.8 Q1010.4,586.2 1000.8,592.8 Z" fill="#78d800"/><path d="M1048.73,537.3 Q1058.33,543.9 1067.92,537.3 L1067.92,558.3 Q1058.33,553.2 1048.73,558.3 Z" fill="#78d800"/><path d="M1032.75,572.4 Q1042.35,577.5 1051.95,572.4 L1051.95,592.8 Q1042.35,586.2 1032.75,592.8 Z" fill="#78d800"/><path d="M1080.68,537.3 Q1090.28,543.9 1099.88,537.3 L1099.88,558.3 Q1090.28,553.2 1080.68,558.3 Z" fill="#78d800"/><path d="M1064.7,572.4 Q1074.3,577.5 1083.9,572.4 L1083.9,592.8 Q1074.3,586.2 1064.7,592.8 Z" fill="#78d800"/><path d="M1112.63,537.3 Q1122.23,543.9 1131.83,537.3 L1131.83,558.3 Q1122.23,553.2 1112.63,558.3 Z" fill="#78d800"/><path d="M1096.65,572.4 Q1106.25,577.5 1115.85,572.4 L1115.85,592.8 Q1106.25,586.2 1096.65,592.8 Z" fill="#78d800"/><path d="M1144.58,537.3 Q1154.18,543.9 1163.78,537.3 L1163.78,558.3 Q1154.18,553.2 1144.58,558.3 Z" fill="#78d800"/><path d="M1128.6,572.4 Q1138.2,577.5 1147.8,572.4 L1147.8,592.8 Q1138.2,586.2 1128.6,592.8 Z" fill="#78d800"/><path d="M938.9,560.9 L937.6,548.9 A8.9 16.8 0 0 1 955.4,548.9 L954.1,560.9 L952.25,554.2 A5.75 9 0 0 0 940.75,554.2 Z" fill="#00d828"/><path d="M938.9,539.7 Q946.5,528.9 954.1,539.7" fill="none" stroke="#00d898" stroke-width="1.2"/><path d="M954.88,569.6 L953.58,580.8 A8.9 16.8 0 0 0 971.38,580.8 L970.08,569.6 L968.23,575.5 A5.75 9 0 0 1 956.73,575.5 Z" fill="#00d828"/><path d="M954.88,590 Q962.48,600.8 970.08,590" fill="none" stroke="#00d898" stroke-width="1.2"/><path d="M970.85,560.9 L969.55,548.9 A8.9 16.8 0 0 1 987.35,548.9 L986.05,560.9 L984.2,554.2 A5.75 9 0 0 0 972.7,554.2 Z" fill="#00d828"/><path d="M970.85,539.7 Q978.45,528.9 986.05,539.7" fill="none" stroke="#00d898" stroke-width="1.2"/><path d="M986.83,569.6 L985.53,580.8 A8.9 16.8 0 0 0 1003.33,580.8 L1002.03,569.6 L1000.18,575.5 A5.75 9 0 0 1 988.68,575.5 Z" fill="#00d828"/><path d="M986.83,590 Q994.43,600.8 1002.03,590" fill="none" stroke="#00d898" stroke-width="1.2"/><path d="M1002.8,560.9 L1001.5,548.9 A8.9 16.8 0 0 1 1019.3,548.9 L1018,560.9 L1016.15,554.2 A5.75 9 0 0 0 1004.65,554.2 Z" fill="#00d828"/><path d="M1002.8,539.7 Q1010.4,528.9 1018,539.7" fill="none" stroke="#00d898" stroke-width="1.2"/><path d="M1018.77,569.6 L1017.48,580.8 A8.9 16.8 0 0 0 1035.28,580.8 L1033.98,569.6 L1032.12,575.5 A5.75 9 0 0 1 1020.62,575.5 Z" fill="#00d828"/><path d="M1018.77,590 Q1026.38,600.8 1033.97,590" fill="none" stroke="#00d898" stroke-width="1.2"/><path d="M1034.75,560.9 L1033.45,548.9 A8.9 16.8 0 0 1 1051.25,548.9 L1049.95,560.9 L1048.1,554.2 A5.75 9 0 0 0 1036.6,554.2 Z" fill="#00d828"/><path d="M1034.75,539.7 Q1042.35,528.9 1049.95,539.7" fill="none" stroke="#00d898" stroke-width="1.2"/><path d="M1050.72,569.6 L1049.42,580.8 A8.9 16.8 0 0 0 1067.23,580.8 L1065.93,569.6 L1064.08,575.5 A5.75 9 0 0 1 1052.58,575.5 Z" fill="#00d828"/><path d="M1050.73,590 Q1058.33,600.8 1065.92,590" fill="none" stroke="#00d898" stroke-width="1.2"/><path d="M1066.7,560.9 L1065.4,548.9 A8.9 16.8 0 0 1 1083.2,548.9 L1081.9,560.9 L1080.05,554.2 A5.75 9 0 0 0 1068.55,554.2 Z" fill="#00d828"/><path d="M1066.7,539.7 Q1074.3,528.9 1081.9,539.7" fill="none" stroke="#00d898" stroke-width="1.2"/><path d="M1082.67,569.6 L1081.37,580.8 A8.9 16.8 0 0 0 1099.17,580.8 L1097.88,569.6 L1096.02,575.5 A5.75 9 0 0 1 1084.52,575.5 Z" fill="#00d828"/><path d="M1082.67,590 Q1090.27,600.8 1097.87,590" fill="none" stroke="#00d898" stroke-width="1.2"/><path d="M1098.65,560.9 L1097.35,548.9 A8.9 16.8 0 0 1 1115.15,548.9 L1113.85,560.9 L1112,554.2 A5.75 9 0 0 0 1100.5,554.2 Z" fill="#00d828"/><path d="M1098.65,539.7 Q1106.25,528.9 1113.85,539.7" fill="none" stroke="#00d898" stroke-width="1.2"/><path d="M1114.62,569.6 L1113.32,580.8 A8.9 16.8 0 0 0 1131.12,580.8 L1129.83,569.6 L1127.97,575.5 A5.75 9 0 0 1 1116.47,575.5 Z" fill="#00d828"/><path d="M1114.62,590 Q1122.22,600.8 1129.82,590" fill="none" stroke="#00d898" stroke-width="1.2"/><path d="M1130.6,560.9 L1129.3,548.9 A8.9 16.8 0 0 1 1147.1,548.9 L1145.8,560.9 L1143.95,554.2 A5.75 9 0 0 0 1132.45,554.2 Z" fill="#00d828"/><path d="M1130.6,539.7 Q1138.2,528.9 1145.8,539.7" fill="none" stroke="#00d898" stroke-width="1.2"/><path d="M1146.57,569.6 L1145.27,580.8 A8.9 16.8 0 0 0 1163.08,580.8 L1161.78,569.6 L1159.92,575.5 A5.75 9 0 0 1 1148.42,575.5 Z" fill="#00d828"/><path d="M1146.58,590 Q1154.17,600.8 1161.77,590" fill="none" stroke="#00d898" stroke-width="1.2"/></g>
<rect x="1167.8" y="407.5" width="17.5" height="16.09" fill="#ff0000"/>
<rect x="1167.8" y="423.29" width="17.5" height="16.09" fill="#ff5d00"/>
<rect x="1167.8" y="439.08" width="17.5" height="16.09" fill="#ffb900"/>
<rect x="1167.8" y="454.88" width="17.5" height="16.09" fill="#e8ff00"/>
<rect x="1167.8" y="470.67" width="17.5" height="16.09" fill="#8bff00"/>
<rect x="1167.8" y="486.46" width="17.5" height="16.09" fill="#2eff00"/>
<rect x="1167.8" y="502.25" width="17.5" height="16.09" fill="#00ff2e"/>
<rect x="1167.8" y="518.04" width="17.5" height="16.09" fill="#00ff8b"/>
<rect x="1167.8" y="533.83" width="17.5" height="16.09" fill="#00ffe8"/>
<rect x="1167.8" y="549.62" width="17.5" height="16.09" fill="#00b9ff"/>
<rect x="1167.8" y="565.42" width="17.5" height="16.09" fill="#005dff"/>
<rect x="1167.8" y="581.21" width="17.5" height="16.09" fill="#0000ff"/>
<rect x="1167.8" y="407.5" width="17.5" height="189.5" fill="none" stroke="#333" stroke-width="0.6"/>
<line x1="1167.8" y1="407.5" x2="1186.6" y2="407.5" stroke="#000" stroke-width="0.9"/>
<line x1="1167.8" y1="423.29" x2="1186.6" y2="423.29" stroke="#000" stroke-width="0.9"/>
<line x1="1167.8" y1="439.08" x2="1186.6" y2="439.08" stroke="#000" stroke-width="0.9"/>
<line x1="1167.8" y1="454.88" x2="1186.6" y2="454.88" stroke="#000" stroke-width="0.9"/>
<line x1="1167.8" y1="470.67" x2="1186.6" y2="470.67" stroke="#000" stroke-width="0.9"/>
<line x1="1167.8" y1="486.46" x2="1186.6" y2="486.46" stroke="#000" stroke-width="0.9"/>
<line x1="1167.8" y1="502.25" x2="1186.6" y2="502.25" stroke="#000" stroke-width="0.9"/>
<line x1="1167.8" y1="518.04" x2="1186.6" y2="518.04" stroke="#000" stroke-width="0.9"/>
<line x1="1167.8" y1="533.83" x2="1186.6" y2="533.83" stroke="#000" stroke-width="0.9"/>
<line x1="1167.8" y1="549.62" x2="1186.6" y2="549.62" stroke="#000" stroke-width="0.9"/>
<line x1="1167.8" y1="565.42" x2="1186.6" y2="565.42" stroke="#000" stroke-width="0.9"/>
<line x1="1167.8" y1="581.21" x2="1186.6" y2="581.21" stroke="#000" stroke-width="0.9"/>
<line x1="1167.8" y1="597" x2="1186.6" y2="597" stroke="#000" stroke-width="0.9"/>
<text x="1153.5" y="359.5" font-family="'Liberation Serif', 'Times New Roman', serif" fill="#000"><tspan font-style="italic" font-size="27">ε</tspan><tspan font-size="17.5" dy="8" dx="2.5">max</tspan></text>
<text x="1150.7" y="397" font-family="'Liberation Sans', Arial, sans-serif" font-size="21.3" fill="#000" >180%</text>
<text x="1144" y="620" font-family="'Liberation Sans', Arial, sans-serif" font-size="21.3" fill="#000" >-180%</text>
</g>
<g id="panel_e">
<text x="528" y="706.3" font-family="'Liberation Sans', Arial, sans-serif" font-size="31.5" fill="#000" font-weight="bold" >e</text>
<rect x="555.3" y="687.2" width="685" height="343.8" fill="none" stroke="#000" stroke-width="1.7" stroke-dasharray="14.7 5.45"/>
<text x="729.3" y="720" font-family="'Liberation Sans', Arial, sans-serif" font-size="24" fill="#0000ff" >free</text>
<text x="856.8" y="720" font-family="'Liberation Sans', Arial, sans-serif" font-size="24" fill="#000" >slidable</text>
<text x="997.5" y="720" font-family="'Liberation Sans', Arial, sans-serif" font-size="24" fill="#ff0000" >bonded</text>
<text x="580" y="809.3" font-family="'Liberation Serif', 'Times New Roman', serif" font-size="24" fill="#000"><tspan font-style="italic">H</tspan>/<tspan font-style="italic">R</tspan>=0.05</text>
<text x="586" y="949.3" font-family="'Liberation Serif', 'Times New Roman', serif" font-size="24" fill="#000"><tspan font-style="italic">H</tspan>/<tspan font-style="italic">R</tspan>=2.00</text>
<rect x="687.2" y="741.8" width="127.6" height="120.8" fill="#00d870"/>
<rect x="833" y="742.5" width="126.8" height="121" fill="#00d870"/>
<rect x="979" y="742.3" width="127" height="121.2" fill="#00d870"/><g clip-path="url(#e13)"><path d="M937.8,800.2 L937.8,783.6 A8.6 8.6 0 0 1 955,783.6 L955,800.2" fill="none" stroke="url(#ge13)" stroke-width="3.0"/><path d="M954.08,807.9 L956.08,824.4 L953.77,821.9 Z M970.67,807.9 L968.67,824.4 L970.98,821.9 Z" fill="#00d8c8"/><path d="M971.96,826.39 A10.2 10.2 0 0 1 952.79,826.39" fill="none" stroke="#00d8d0" stroke-width="3.0" opacity="0.9"/><path d="M969.29,829.12 A9.3 9.3 0 0 1 955.46,829.12" fill="none" stroke="#0018e0" stroke-width="1.9"/><path d="M968.18,825.65 A6.7 6.7 0 0 1 956.57,825.65" fill="none" stroke="#30d800" stroke-width="1.5"/><path d="M969.75,800.2 L969.75,783.6 A8.6 8.6 0 0 1 986.95,783.6 L986.95,800.2" fill="none" stroke="url(#ge13)" stroke-width="3.0"/><path d="M986.03,807.9 L988.03,824.4 L985.73,821.9 Z M1002.62,807.9 L1000.62,824.4 L1002.93,821.9 Z" fill="#00d8c8"/><path d="M1003.91,826.39 A10.2 10.2 0 0 1 984.74,826.39" fill="none" stroke="#00d8d0" stroke-width="3.0" opacity="0.9"/><path d="M1001.24,829.12 A9.3 9.3 0 0 1 987.41,829.12" fill="none" stroke="#0018e0" stroke-width="1.9"/><path d="M1000.13,825.65 A6.7 6.7 0 0 1 988.52,825.65" fill="none" stroke="#30d800" stroke-width="1.5"/><path d="M1001.7,800.2 L1001.7,783.6 A8.6 8.6 0 0 1 1018.9,783.6 L1018.9,800.2" fill="none" stroke="url(#ge13)" stroke-width="3.0"/><path d="M1017.98,807.9 L1019.98,824.4 L1017.68,821.9 Z M1034.58,807.9 L1032.58,824.4 L1034.88,821.9 Z" fill="#00d8c8"/><path d="M1035.86,826.39 A10.2 10.2 0 0 1 1016.69,826.39" fill="none" stroke="#00d8d0" stroke-width="3.0" opacity="0.9"/><path d="M1033.19,829.12 A9.3 9.3 0 0 1 1019.36,829.12" fill="none" stroke="#0018e0" stroke-width="1.9"/><path d="M1032.08,825.65 A6.7 6.7 0 0 1 1020.47,825.65" fill="none" stroke="#30d800" stroke-width="1.5"/><path d="M1033.65,800.2 L1033.65,783.6 A8.6 8.6 0 0 1 1050.85,783.6 L1050.85,800.2" fill="none" stroke="url(#ge13)" stroke-width="3.0"/><path d="M1049.92,807.9 L1051.92,824.4 L1049.62,821.9 Z M1066.52,807.9 L1064.52,824.4 L1066.82,821.9 Z" fill="#00d8c8"/><path d="M1067.81,826.39 A10.2 10.2 0 0 1 1048.64,826.39" fill="none" stroke="#00d8d0" stroke-width="3.0" opacity="0.9"/><path d="M1065.14,829.12 A9.3 9.3 0 0 1 1051.31,829.12" fill="none" stroke="#0018e0" stroke-width="1.9"/><path d="M1064.03,825.65 A6.7 6.7 0 0 1 1052.42,825.65" fill="none" stroke="#30d800" stroke-width="1.5"/><path d="M1065.6,800.2 L1065.6,783.6 A8.6 8.6 0 0 1 1082.8,783.6 L1082.8,800.2" fill="none" stroke="url(#ge13)" stroke-width="3.0"/><path d="M1081.88,807.9 L1083.88,824.4 L1081.58,821.9 Z M1098.47,807.9 L1096.47,824.4 L1098.77,821.9 Z" fill="#00d8c8"/><path d="M1099.76,826.39 A10.2 10.2 0 0 1 1080.59,826.39" fill="none" stroke="#00d8d0" stroke-width="3.0" opacity="0.9"/><path d="M1097.09,829.12 A9.3 9.3 0 0 1 1083.26,829.12" fill="none" stroke="#0018e0" stroke-width="1.9"/><path d="M1095.98,825.65 A6.7 6.7 0 0 1 1084.37,825.65" fill="none" stroke="#30d800" stroke-width="1.5"/><path d="M1097.55,800.2 L1097.55,783.6 A8.6 8.6 0 0 1 1114.75,783.6 L1114.75,800.2" fill="none" stroke="url(#ge13)" stroke-width="3.0"/><path d="M1113.83,807.9 L1115.83,824.4 L1113.53,821.9 Z M1130.42,807.9 L1128.42,824.4 L1130.72,821.9 Z" fill="#00d8c8"/><path d="M1131.71,826.39 A10.2 10.2 0 0 1 1112.54,826.39" fill="none" stroke="#00d8d0" stroke-width="3.0" opacity="0.9"/><path d="M1129.04,829.12 A9.3 9.3 0 0 1 1115.21,829.12" fill="none" stroke="#0018e0" stroke-width="1.9"/><path d="M1127.93,825.65 A6.7 6.7 0 0 1 1116.32,825.65" fill="none" stroke="#30d800" stroke-width="1.5"/><path d="M1129.5,800.2 L1129.5,783.6 A8.6 8.6 0 0 1 1146.7,783.6 L1146.7,800.2" fill="none" stroke="url(#ge13)" stroke-width="3.0"/><path d="M1145.77,807.9 L1147.77,824.4 L1145.47,821.9 Z M1162.37,807.9 L1160.37,824.4 L1162.67,821.9 Z" fill="#00d8c8"/><path d="M1163.66,826.39 A10.2 10.2 0 0 1 1144.49,826.39" fill="none" stroke="#00d8d0" stroke-width="3.0" opacity="0.9"/><path d="M1160.99,829.12 A9.3 9.3 0 0 1 1147.16,829.12" fill="none" stroke="#0018e0" stroke-width="1.9"/><path d="M1159.88,825.65 A6.7 6.7 0 0 1 1148.27,825.65" fill="none" stroke="#30d800" stroke-width="1.5"/></g>
<rect x="687.2" y="884.8" width="127.1" height="120.7" fill="#00d870"/><g clip-path="url(#e21)"><path d="M645.3,925 A9.3 9.3 0 0 1 663.9,925 L662.5,925 A7.9 6.9 0 0 0 646.7,925 Z" fill="#00d810" opacity="1"/><path d="M661.18,963.2 A9.4 12.6 0 0 0 679.98,963.2 L677.88,963.2 A7.3 8.9 0 0 1 663.28,963.2 Z" fill="#00d8c0" opacity="1"/><path d="M677.25,925 A9.3 9.3 0 0 1 695.85,925 L694.45,925 A7.9 6.9 0 0 0 678.65,925 Z" fill="#00d810" opacity="1"/><path d="M693.13,963.2 A9.4 12.6 0 0 0 711.93,963.2 L709.83,963.2 A7.3 8.9 0 0 1 695.23,963.2 Z" fill="#00d8c0" opacity="1"/><path d="M709.2,925 A9.3 9.3 0 0 1 727.8,925 L726.4,925 A7.9 6.9 0 0 0 710.6,925 Z" fill="#00d810" opacity="1"/><path d="M725.08,963.2 A9.4 12.6 0 0 0 743.88,963.2 L741.78,963.2 A7.3 8.9 0 0 1 727.18,963.2 Z" fill="#00d8c0" opacity="1"/><path d="M741.15,925 A9.3 9.3 0 0 1 759.75,925 L758.35,925 A7.9 6.9 0 0 0 742.55,925 Z" fill="#00d810" opacity="1"/><path d="M757.03,963.2 A9.4 12.6 0 0 0 775.83,963.2 L773.73,963.2 A7.3 8.9 0 0 1 759.13,963.2 Z" fill="#00d8c0" opacity="1"/><path d="M773.1,925 A9.3 9.3 0 0 1 791.7,925 L790.3,925 A7.9 6.9 0 0 0 774.5,925 Z" fill="#00d810" opacity="1"/><path d="M788.98,963.2 A9.4 12.6 0 0 0 807.78,963.2 L805.68,963.2 A7.3 8.9 0 0 1 791.08,963.2 Z" fill="#00d8c0" opacity="1"/><path d="M805.05,925 A9.3 9.3 0 0 1 823.65,925 L822.25,925 A7.9 6.9 0 0 0 806.45,925 Z" fill="#00d810" opacity="1"/><path d="M820.93,963.2 A9.4 12.6 0 0 0 839.73,963.2 L837.62,963.2 A7.3 8.9 0 0 1 823.03,963.2 Z" fill="#00d8c0" opacity="1"/><path d="M837,925 A9.3 9.3 0 0 1 855.6,925 L854.2,925 A7.9 6.9 0 0 0 838.4,925 Z" fill="#00d810" opacity="1"/><path d="M852.88,963.2 A9.4 12.6 0 0 0 871.68,963.2 L869.58,963.2 A7.3 8.9 0 0 1 854.98,963.2 Z" fill="#00d8c0" opacity="1"/></g>
<rect x="834.8" y="885.5" width="127.2" height="120.3" fill="#00d870"/><g clip-path="url(#e22)"><path d="M792.9,925 A9.3 9.3 0 0 1 811.5,925 L810.1,925 A7.9 6.9 0 0 0 794.3,925 Z" fill="#00d810" opacity="1"/><path d="M808.77,963.2 A9.4 12.6 0 0 0 827.57,963.2 L825.47,963.2 A7.3 8.9 0 0 1 810.88,963.2 Z" fill="#00d8c0" opacity="1"/><path d="M824.85,925 A9.3 9.3 0 0 1 843.45,925 L842.05,925 A7.9 6.9 0 0 0 826.25,925 Z" fill="#00d810" opacity="1"/><path d="M840.73,963.2 A9.4 12.6 0 0 0 859.52,963.2 L857.42,963.2 A7.3 8.9 0 0 1 842.83,963.2 Z" fill="#00d8c0" opacity="1"/><path d="M856.8,925 A9.3 9.3 0 0 1 875.4,925 L874,925 A7.9 6.9 0 0 0 858.2,925 Z" fill="#00d810" opacity="1"/><path d="M872.68,963.2 A9.4 12.6 0 0 0 891.48,963.2 L889.38,963.2 A7.3 8.9 0 0 1 874.78,963.2 Z" fill="#00d8c0" opacity="1"/><path d="M888.75,925 A9.3 9.3 0 0 1 907.35,925 L905.95,925 A7.9 6.9 0 0 0 890.15,925 Z" fill="#00d810" opacity="1"/><path d="M904.62,963.2 A9.4 12.6 0 0 0 923.42,963.2 L921.32,963.2 A7.3 8.9 0 0 1 906.73,963.2 Z" fill="#00d8c0" opacity="1"/><path d="M920.7,925 A9.3 9.3 0 0 1 939.3,925 L937.9,925 A7.9 6.9 0 0 0 922.1,925 Z" fill="#00d810" opacity="1"/><path d="M936.58,963.2 A9.4 12.6 0 0 0 955.38,963.2 L953.27,963.2 A7.3 8.9 0 0 1 938.68,963.2 Z" fill="#00d8c0" opacity="1"/><path d="M952.65,925 A9.3 9.3 0 0 1 971.25,925 L969.85,925 A7.9 6.9 0 0 0 954.05,925 Z" fill="#00d810" opacity="1"/><path d="M968.52,963.2 A9.4 12.6 0 0 0 987.32,963.2 L985.22,963.2 A7.3 8.9 0 0 1 970.62,963.2 Z" fill="#00d8c0" opacity="1"/><path d="M984.6,925 A9.3 9.3 0 0 1 1003.2,925 L1001.8,925 A7.9 6.9 0 0 0 986,925 Z" fill="#00d810" opacity="1"/><path d="M1000.48,963.2 A9.4 12.6 0 0 0 1019.27,963.2 L1017.17,963.2 A7.3 8.9 0 0 1 1002.58,963.2 Z" fill="#00d8c0" opacity="1"/></g>
<rect x="979.8" y="885" width="126.7" height="121" fill="#00d870"/><g clip-path="url(#e23)"><path d="M937.9,925.4 A9.3 9.3 0 0 1 956.5,925.4 L955.8,925.4 A8.6 8.1 0 0 0 938.6,925.4 Z" fill="#00d810" opacity="0.8"/><path d="M953.77,963.6 A9.4 12.6 0 0 0 972.57,963.6 L971.52,963.6 A8.35 10.75 0 0 1 954.82,963.6 Z" fill="#00d8c0" opacity="0.8"/><path d="M969.85,925.4 A9.3 9.3 0 0 1 988.45,925.4 L987.75,925.4 A8.6 8.1 0 0 0 970.55,925.4 Z" fill="#00d810" opacity="0.8"/><path d="M985.73,963.6 A9.4 12.6 0 0 0 1004.52,963.6 L1003.48,963.6 A8.35 10.75 0 0 1 986.77,963.6 Z" fill="#00d8c0" opacity="0.8"/><path d="M1001.8,925.4 A9.3 9.3 0 0 1 1020.4,925.4 L1019.7,925.4 A8.6 8.1 0 0 0 1002.5,925.4 Z" fill="#00d810" opacity="0.8"/><path d="M1017.68,963.6 A9.4 12.6 0 0 0 1036.48,963.6 L1035.42,963.6 A8.35 10.75 0 0 1 1018.73,963.6 Z" fill="#00d8c0" opacity="0.8"/><path d="M1033.75,925.4 A9.3 9.3 0 0 1 1052.35,925.4 L1051.65,925.4 A8.6 8.1 0 0 0 1034.45,925.4 Z" fill="#00d810" opacity="0.8"/><path d="M1049.62,963.6 A9.4 12.6 0 0 0 1068.42,963.6 L1067.37,963.6 A8.35 10.75 0 0 1 1050.67,963.6 Z" fill="#00d8c0" opacity="0.8"/><path d="M1065.7,925.4 A9.3 9.3 0 0 1 1084.3,925.4 L1083.6,925.4 A8.6 8.1 0 0 0 1066.4,925.4 Z" fill="#00d810" opacity="0.8"/><path d="M1081.57,963.6 A9.4 12.6 0 0 0 1100.38,963.6 L1099.32,963.6 A8.35 10.75 0 0 1 1082.62,963.6 Z" fill="#00d8c0" opacity="0.8"/><path d="M1097.65,925.4 A9.3 9.3 0 0 1 1116.25,925.4 L1115.55,925.4 A8.6 8.1 0 0 0 1098.35,925.4 Z" fill="#00d810" opacity="0.8"/><path d="M1113.52,963.6 A9.4 12.6 0 0 0 1132.33,963.6 L1131.27,963.6 A8.35 10.75 0 0 1 1114.58,963.6 Z" fill="#00d8c0" opacity="0.8"/><path d="M1129.6,925.4 A9.3 9.3 0 0 1 1148.2,925.4 L1147.5,925.4 A8.6 8.1 0 0 0 1130.3,925.4 Z" fill="#00d810" opacity="0.8"/><path d="M1145.47,963.6 A9.4 12.6 0 0 0 1164.28,963.6 L1163.22,963.6 A8.35 10.75 0 0 1 1146.53,963.6 Z" fill="#00d8c0" opacity="0.8"/></g>
<rect x="1167.8" y="788.5" width="17.5" height="16.09" fill="#ff0000"/>
<rect x="1167.8" y="804.29" width="17.5" height="16.09" fill="#ff5d00"/>
<rect x="1167.8" y="820.08" width="17.5" height="16.09" fill="#ffb900"/>
<rect x="1167.8" y="835.88" width="17.5" height="16.09" fill="#e8ff00"/>
<rect x="1167.8" y="851.67" width="17.5" height="16.09" fill="#8bff00"/>
<rect x="1167.8" y="867.46" width="17.5" height="16.09" fill="#2eff00"/>
<rect x="1167.8" y="883.25" width="17.5" height="16.09" fill="#00ff2e"/>
<rect x="1167.8" y="899.04" width="17.5" height="16.09" fill="#00ff8b"/>
<rect x="1167.8" y="914.83" width="17.5" height="16.09" fill="#00ffe8"/>
<rect x="1167.8" y="930.62" width="17.5" height="16.09" fill="#00b9ff"/>
<rect x="1167.8" y="946.42" width="17.5" height="16.09" fill="#005dff"/>
<rect x="1167.8" y="962.21" width="17.5" height="16.09" fill="#0000ff"/>
<rect x="1167.8" y="788.5" width="17.5" height="189.5" fill="none" stroke="#333" stroke-width="0.6"/>
<line x1="1167.8" y1="788.5" x2="1186.6" y2="788.5" stroke="#000" stroke-width="0.9"/>
<line x1="1167.8" y1="804.29" x2="1186.6" y2="804.29" stroke="#000" stroke-width="0.9"/>
<line x1="1167.8" y1="820.08" x2="1186.6" y2="820.08" stroke="#000" stroke-width="0.9"/>
<line x1="1167.8" y1="835.88" x2="1186.6" y2="835.88" stroke="#000" stroke-width="0.9"/>
<line x1="1167.8" y1="851.67" x2="1186.6" y2="851.67" stroke="#000" stroke-width="0.9"/>
<line x1="1167.8" y1="867.46" x2="1186.6" y2="867.46" stroke="#000" stroke-width="0.9"/>
<line x1="1167.8" y1="883.25" x2="1186.6" y2="883.25" stroke="#000" stroke-width="0.9"/>
<line x1="1167.8" y1="899.04" x2="1186.6" y2="899.04" stroke="#000" stroke-width="0.9"/>
<line x1="1167.8" y1="914.83" x2="1186.6" y2="914.83" stroke="#000" stroke-width="0.9"/>
<line x1="1167.8" y1="930.62" x2="1186.6" y2="930.62" stroke="#000" stroke-width="0.9"/>
<line x1="1167.8" y1="946.42" x2="1186.6" y2="946.42" stroke="#000" stroke-width="0.9"/>
<line x1="1167.8" y1="962.21" x2="1186.6" y2="962.21" stroke="#000" stroke-width="0.9"/>
<line x1="1167.8" y1="978" x2="1186.6" y2="978" stroke="#000" stroke-width="0.9"/>
<text x="1158.5" y="741" font-family="'Liberation Serif', 'Times New Roman', serif" fill="#000"><tspan font-style="italic" font-size="27">σ</tspan><tspan font-size="16.5" dy="7.5" dx="1">13</tspan></text>
<text x="1126.5" y="777.5" font-family="'Liberation Sans', Arial, sans-serif" font-size="21.3" fill="#000" >0.017 MPa</text>
<text x="1126" y="1001" font-family="'Liberation Sans', Arial, sans-serif" font-size="21.3" fill="#000" >-0.01 MPa</text>
</g>
<g id="panel_f">
<text x="11.5" y="1102.3" font-family="'Liberation Sans', Arial, sans-serif" font-size="31.5" fill="#000" font-weight="bold" >f</text>
<rect x="32" y="1079.8" width="76.8" height="133.2" fill="#cd6e14"/>
<path d="M43.8,1086 H104.8 Q108.8,1086 108.8,1090 V1213 H43.8 Q38.8,1213 38.8,1208 V1091 Q38.8,1086 43.8,1086 Z" fill="#c4c4c4"/>
<rect x="469.6" y="1079.8" width="77" height="133.2" fill="#cd6e14"/>
<path d="M474,1086.6 H534 Q539,1086.6 539,1091.6 V1208 Q539,1213 534,1213 H470 V1090.6 Q470,1086.6 474,1086.6 Z" fill="#c4c4c4"/>
<line x1="225.45" y1="1095.4" x2="225.45" y2="1197.35" stroke="#e0a878" stroke-width="6.6"/>
<line x1="251.25" y1="1095.4" x2="251.25" y2="1197.35" stroke="#e0a878" stroke-width="6.6"/>
<line x1="277.05" y1="1095.4" x2="277.05" y2="1197.35" stroke="#e0a878" stroke-width="6.6"/>
<line x1="302.85" y1="1095.4" x2="302.85" y2="1197.35" stroke="#e0a878" stroke-width="6.6"/>
<line x1="328.65" y1="1095.4" x2="328.65" y2="1197.35" stroke="#e0a878" stroke-width="6.6"/>
<line x1="354.45" y1="1095.4" x2="354.45" y2="1197.35" stroke="#e0a878" stroke-width="6.6"/>
<path d="M106,1210.25 L109.35,1210.25 A12.9 12.9 0 0 0 122.25,1197.35 L122.25,1095.4 A12.9 12.9 0 0 1 148.05,1095.4 L148.05,1197.35 A12.9 12.9 0 0 0 173.85,1197.35 L173.85,1095.4 A12.9 12.9 0 0 1 199.65,1095.4 L199.65,1197.35 A12.9 12.9 0 0 0 225.45,1197.35 L225.45,1095.4 A12.9 12.9 0 0 1 251.25,1095.4 L251.25,1197.35 A12.9 12.9 0 0 0 277.05,1197.35 L277.05,1095.4 A12.9 12.9 0 0 1 302.85,1095.4 L302.85,1197.35 A12.9 12.9 0 0 0 328.65,1197.35 L328.65,1095.4 A12.9 12.9 0 0 1 354.45,1095.4 L354.45,1197.35 A12.9 12.9 0 0 0 380.25,1197.35 L380.25,1095.4 A12.9 12.9 0 0 1 406.05,1095.4 L406.05,1197.35 A12.9 12.9 0 0 0 431.85,1197.35 L431.85,1095.4 A12.9 12.9 0 0 1 457.65,1095.4 L457.65,1197.35 A12.9 12.9 0 0 0 470.55,1210.25 L473,1210.25" fill="none" stroke="#c4c4c4" stroke-width="5.6"/>
<path d="M225.65,1096 A12.7 12.7 0 0 1 251.05,1096" fill="none" stroke="#cd6e14" stroke-width="6.8"/><path d="M226.85,1096 A11.5 11.5 0 0 1 249.85,1096" fill="none" stroke="#dcc4ac" stroke-width="0.8"/>
<path d="M277.25,1096 A12.7 12.7 0 0 1 302.65,1096" fill="none" stroke="#cd6e14" stroke-width="6.8"/><path d="M278.45,1096 A11.5 11.5 0 0 1 301.45,1096" fill="none" stroke="#dcc4ac" stroke-width="0.8"/>
<path d="M328.85,1096 A12.7 12.7 0 0 1 354.25,1096" fill="none" stroke="#cd6e14" stroke-width="6.8"/><path d="M330.05,1096 A11.5 11.5 0 0 1 353.05,1096" fill="none" stroke="#dcc4ac" stroke-width="0.8"/>
<path d="M199.85,1196.75 A12.7 12.7 0 0 0 225.25,1196.75" fill="none" stroke="#cd6e14" stroke-width="6.8"/><path d="M201.05,1196.75 A11.5 11.5 0 0 0 224.05,1196.75" fill="none" stroke="#dcc4ac" stroke-width="0.8"/>
<path d="M251.45,1196.75 A12.7 12.7 0 0 0 276.85,1196.75" fill="none" stroke="#cd6e14" stroke-width="6.8"/><path d="M252.65,1196.75 A11.5 11.5 0 0 0 275.65,1196.75" fill="none" stroke="#dcc4ac" stroke-width="0.8"/>
<path d="M303.05,1196.75 A12.7 12.7 0 0 0 328.45,1196.75" fill="none" stroke="#cd6e14" stroke-width="6.8"/><path d="M304.25,1196.75 A11.5 11.5 0 0 0 327.25,1196.75" fill="none" stroke="#dcc4ac" stroke-width="0.8"/>
<path d="M354.65,1196.75 A12.7 12.7 0 0 0 380.05,1196.75" fill="none" stroke="#cd6e14" stroke-width="6.8"/><path d="M355.85,1196.75 A11.5 11.5 0 0 0 378.85,1196.75" fill="none" stroke="#dcc4ac" stroke-width="0.8"/>
<rect x="213.8" y="1073" width="48.2" height="41" fill="none" stroke="#8064a6" stroke-width="1.3" stroke-dasharray="9 4.4"/>
<rect x="558.3" y="1079.9" width="172.3" height="132.8" fill="none" stroke="#8064a6" stroke-width="1.3" stroke-dasharray="12.9 9.1" stroke-dashoffset="13.7"/>
<clipPath id="clipF"><rect x="558.3" y="1079.9" width="172.3" height="132.2"/></clipPath>
<g clip-path="url(#clipF)">
<path d="M578.1,1213 V1154.3 A67.9 67.9 0 0 1 713.9,1154.3 V1213 H691.1 V1154.3 A45.1 45.1 0 0 0 600.9,1154.3 V1213 Z" fill="#c6c6c6" stroke="#dcae7c" stroke-width="0.7"/>
<path d="M578.26,1149.7 A67.9 67.9 0 0 1 713.74,1149.7 Q704.74,1139.2 687.77,1137.3 A45.1 45.1 0 0 0 604.23,1137.3 Q587.26,1139.2 578.26,1149.7 Z" fill="#cd6e14"/>
<path d="M596.68,1137.5 A52.1 52.1 0 0 1 695.32,1137.5" fill="none" stroke="#c9c9c9" stroke-width="1.6"/>
</g>
<text x="563" y="1100.4" font-family="'Liberation Sans', Arial, sans-serif" font-size="21.3" fill="#000" >PI</text>
<text x="589.3" y="1149.7" font-family="'Liberation Sans', Arial, sans-serif" font-size="21.3" fill="#000" >constantan</text>
<line x1="582.6" y1="1098.8" x2="589.96" y2="1107.11" stroke="#000" stroke-width="1.2"/><polygon points="594.2,1111.9 586.65,1107.9 591.14,1103.92" fill="#000"/>
<line x1="628.6" y1="1132.2" x2="618.55" y2="1120.89" stroke="#000" stroke-width="1.2"/><polygon points="614.3,1116.1 621.86,1120.09 617.37,1124.07" fill="#000"/>
</g>
<g id="panel_g">
<text x="7.5" y="1262.3" font-family="'Liberation Sans', Arial, sans-serif" font-size="31.5" fill="#000" font-weight="bold" >g</text>
<g clip-path="url(#cg1)"><rect x="31" y="1243" width="329.2" height="68.8" fill="url(#g1bg)" /><rect x="230.2" y="1243" width="130" height="68.8" fill="#bcb9b2" /><line x1="96.24" y1="1243" x2="96.34" y2="1311.8" stroke="#ffffff" stroke-width="0.95" opacity="0.19"/><line x1="58.22" y1="1243" x2="57.73" y2="1305.54" stroke="#ffffff" stroke-width="0.91" opacity="0.14"/><line x1="146.97" y1="1243" x2="147.15" y2="1311.8" stroke="#ffffff" stroke-width="1.05" opacity="0.06"/><line x1="119.41" y1="1243" x2="119.1" y2="1307.87" stroke="#ffffff" stroke-width="0.63" opacity="0.05"/><line x1="36.27" y1="1243" x2="36.44" y2="1311.8" stroke="#ffffff" stroke-width="0.87" opacity="0.12"/><line x1="102.97" y1="1263.59" x2="103.38" y2="1311.8" stroke="#ffffff" stroke-width="1.03" opacity="0.12"/><line x1="132.51" y1="1244.45" x2="132.39" y2="1311.8" stroke="#ffffff" stroke-width="0.75" opacity="0.08"/><line x1="152.21" y1="1243" x2="152.71" y2="1307.47" stroke="#ffffff" stroke-width="0.81" opacity="0.19"/><line x1="98.74" y1="1255.99" x2="98.46" y2="1311.8" stroke="#ffffff" stroke-width="1.28" opacity="0.11"/><line x1="44.37" y1="1243" x2="43.9" y2="1306.71" stroke="#ffffff" stroke-width="0.77" opacity="0.19"/><line x1="40.5" y1="1243" x2="40.13" y2="1311.8" stroke="#ffffff" stroke-width="1.14" opacity="0.08"/><line x1="135.93" y1="1251.68" x2="136.49" y2="1306.23" stroke="#ffffff" stroke-width="0.6" opacity="0.15"/><line x1="146.08" y1="1251.14" x2="146.25" y2="1311.8" stroke="#ffffff" stroke-width="0.74" opacity="0.18"/><line x1="46.25" y1="1258.95" x2="46" y2="1311.8" stroke="#ffffff" stroke-width="1.29" opacity="0.08"/><line x1="42.42" y1="1255.41" x2="42.37" y2="1311.8" stroke="#ffffff" stroke-width="0.57" opacity="0.14"/><line x1="168.2" y1="1243" x2="168.69" y2="1308.62" stroke="#ffffff" stroke-width="0.89" opacity="0.14"/><line x1="292.27" y1="1243.22" x2="292" y2="1311.8" stroke="#ffffff" stroke-width="1.03" opacity="0.45"/><line x1="334.91" y1="1243" x2="334.49" y2="1311.8" stroke="#ffffff" stroke-width="1.05" opacity="0.42"/><line x1="287.89" y1="1259.9" x2="287.69" y2="1297.62" stroke="#ffffff" stroke-width="0.63" opacity="0.56"/><line x1="283.39" y1="1261.89" x2="282.9" y2="1311.8" stroke="#ffffff" stroke-width="1.17" opacity="0.16"/><line x1="357.37" y1="1243" x2="357.51" y2="1305.35" stroke="#ffffff" stroke-width="1.26" opacity="0.2"/><line x1="252.77" y1="1259.84" x2="252.67" y2="1311.8" stroke="#ffffff" stroke-width="1.06" opacity="0.17"/><line x1="307.69" y1="1257.99" x2="308.26" y2="1311.8" stroke="#ffffff" stroke-width="0.88" opacity="0.32"/><line x1="316.28" y1="1243" x2="315.81" y2="1311.8" stroke="#ffffff" stroke-width="0.79" opacity="0.31"/><line x1="261.84" y1="1243" x2="261.28" y2="1311.8" stroke="#ffffff" stroke-width="0.79" opacity="0.38"/><line x1="336.47" y1="1251.82" x2="336.79" y2="1311.8" stroke="#ffffff" stroke-width="0.84" opacity="0.38"/><line x1="245.03" y1="1243" x2="244.84" y2="1306.09" stroke="#ffffff" stroke-width="0.94" opacity="0.23"/><line x1="312.89" y1="1248.82" x2="313.44" y2="1311.8" stroke="#ffffff" stroke-width="0.54" opacity="0.36"/><line x1="293.09" y1="1243" x2="292.72" y2="1311.8" stroke="#ffffff" stroke-width="1.26" opacity="0.23"/><line x1="327.06" y1="1258.91" x2="326.75" y2="1311.8" stroke="#ffffff" stroke-width="1.23" opacity="0.15"/><line x1="233.1" y1="1243" x2="233.1" y2="1311.8" stroke="#ffffff" stroke-width="0.53" opacity="0.43"/><line x1="235.04" y1="1243" x2="234.71" y2="1311.8" stroke="#ffffff" stroke-width="0.76" opacity="0.5"/><line x1="298.96" y1="1262.54" x2="298.55" y2="1311.8" stroke="#ffffff" stroke-width="0.88" opacity="0.43"/><line x1="269" y1="1243" x2="269.23" y2="1311.8" stroke="#ffffff" stroke-width="1.2" opacity="0.28"/><line x1="321.5" y1="1257.1" x2="321.05" y2="1311.8" stroke="#ffffff" stroke-width="0.67" opacity="0.28"/><line x1="344.58" y1="1243" x2="344.65" y2="1311.8" stroke="#ffffff" stroke-width="0.84" opacity="0.26"/><line x1="311.34" y1="1243" x2="311.45" y2="1311.8" stroke="#ffffff" stroke-width="1.24" opacity="0.58"/><line x1="346.42" y1="1243" x2="346.71" y2="1311.8" stroke="#ffffff" stroke-width="1.13" opacity="0.41"/><line x1="303.54" y1="1243" x2="304.02" y2="1311.8" stroke="#ffffff" stroke-width="0.51" opacity="0.47"/><line x1="347.63" y1="1243" x2="347.41" y2="1304.51" stroke="#ffffff" stroke-width="0.93" opacity="0.51"/><line x1="350.62" y1="1243" x2="350.86" y2="1300.77" stroke="#ffffff" stroke-width="1.05" opacity="0.39"/><line x1="282.06" y1="1243" x2="281.63" y2="1311.8" stroke="#ffffff" stroke-width="0.7" opacity="0.33"/><line x1="243.5" y1="1243" x2="244.02" y2="1311.8" stroke="#ffffff" stroke-width="0.75" opacity="0.46"/><line x1="278.43" y1="1243" x2="278.24" y2="1298.02" stroke="#ffffff" stroke-width="0.52" opacity="0.37"/><line x1="262.27" y1="1250.44" x2="262.19" y2="1307.64" stroke="#ffffff" stroke-width="0.76" opacity="0.57"/><line x1="259.99" y1="1243" x2="260.12" y2="1302.21" stroke="#ffffff" stroke-width="1.24" opacity="0.38"/><line x1="339.05" y1="1243" x2="338.72" y2="1311.8" stroke="#ffffff" stroke-width="0.7" opacity="0.36"/><line x1="300.32" y1="1243" x2="300.89" y2="1311.8" stroke="#ffffff" stroke-width="1.11" opacity="0.33"/><line x1="302.34" y1="1243" x2="302.34" y2="1311.8" stroke="#ffffff" stroke-width="1.04" opacity="0.31"/><line x1="277.83" y1="1254.23" x2="278.19" y2="1310.85" stroke="#ffffff" stroke-width="0.75" opacity="0.21"/><line x1="264.89" y1="1243" x2="264.47" y2="1307.04" stroke="#8c8880" stroke-width="1.05" opacity="0.29"/><line x1="260.6" y1="1243" x2="260.51" y2="1305.72" stroke="#8c8880" stroke-width="1.09" opacity="0.18"/><line x1="338.38" y1="1246.03" x2="338.75" y2="1311.8" stroke="#8c8880" stroke-width="0.99" opacity="0.15"/><line x1="334.37" y1="1243" x2="334.08" y2="1311.8" stroke="#8c8880" stroke-width="1.16" opacity="0.3"/><line x1="339.94" y1="1243" x2="339.78" y2="1311.8" stroke="#8c8880" stroke-width="0.89" opacity="0.3"/><line x1="286.59" y1="1243" x2="287.17" y2="1311.8" stroke="#8c8880" stroke-width="0.75" opacity="0.17"/><line x1="319.75" y1="1256.97" x2="319.36" y2="1311.8" stroke="#8c8880" stroke-width="0.94" opacity="0.3"/><line x1="257.73" y1="1243" x2="257.61" y2="1311.8" stroke="#8c8880" stroke-width="0.92" opacity="0.2"/><line x1="248.61" y1="1247.01" x2="248.1" y2="1311.8" stroke="#8c8880" stroke-width="0.89" opacity="0.2"/><line x1="314.71" y1="1243" x2="314.16" y2="1311.8" stroke="#8c8880" stroke-width="1.26" opacity="0.23"/><rect x="93.5" y="1257.3" width="56.5" height="38.5" fill="#b6b2aa" opacity="0.7"/><line x1="93.5" y1="1295" x2="150" y2="1294.5" stroke="#e2e0dc" stroke-width="1.3" opacity="0.7" stroke-dasharray="3 1.5 5 2"/><polygon points="95.9,1262.4 117.6,1259 104,1267.2 96.6,1266.6" fill="#dfe3e8" filter="url(#bl1)"/><line x1="107" y1="1254.6" x2="126" y2="1254" stroke="#d8d6d0" stroke-width="1.6" opacity="0.8"/><path d="M150,1257 l5,-3 M153,1264 l6,-2 M139,1262 l4,-1.5" stroke="#e6e6e2" stroke-width="1.6" opacity="0.8" fill="none"/><rect x="175.2" y="1243" width="55.1" height="68.8" fill="#0a0a0c" /><rect x="175.6" y="1256" width="54.4" height="44.8" fill="url(#g1film)" /><path d="M177,1297.5 h14 M199,1299 h22" stroke="#c8d0d4" stroke-width="1.4" opacity="0.8" filter="url(#bl1)"/><path d="M177.5,1285.45 V1268.75 A1.35 1.35 0 0 1 180.19,1268.75 V1285.45 A1.35 1.35 0 0 0 182.89,1285.45 V1268.75 A1.35 1.35 0 0 1 185.58,1268.75 V1285.45 A1.35 1.35 0 0 0 188.28,1285.45 V1268.75 A1.35 1.35 0 0 1 190.97,1268.75 V1285.45 A1.35 1.35 0 0 0 193.67,1285.45 V1268.75 A1.35 1.35 0 0 1 196.36,1268.75 V1285.45 A1.35 1.35 0 0 0 199.06,1285.45 V1268.75 A1.35 1.35 0 0 1 201.75,1268.75 V1285.45 A1.35 1.35 0 0 0 204.44,1285.45 V1268.75 A1.35 1.35 0 0 1 207.14,1268.75 V1285.45 A1.35 1.35 0 0 0 209.83,1285.45 V1268.75 A1.35 1.35 0 0 1 212.53,1268.75 V1285.45 A1.35 1.35 0 0 0 215.22,1285.45 V1268.75 A1.35 1.35 0 0 1 217.92,1268.75 V1285.45 A1.35 1.35 0 0 0 220.61,1285.45 V1268.75 A1.35 1.35 0 0 1 223.31,1268.75 V1285.45 A1.35 1.35 0 0 0 226,1285.45" fill="none" stroke="#8a949a" stroke-width="0.6"/><rect x="164" y="1270.6" width="11.4" height="17" fill="#b4b8bc" /><rect x="170.5" y="1279" width="4.1" height="7.5" fill="#e4e6e6" filter="url(#bl1)"/><rect x="226.3" y="1269" width="17.5" height="16.6" fill="#c6c6c2" filter="url(#bl1)"/><rect x="226.6" y="1270" width="4.4" height="9" fill="#e8e8e6" /><circle cx="237.5" cy="1275" r="3" fill="#8e8e8a"/><circle cx="240.6" cy="1277.4" r="1.7" fill="#d89040"/><path d="M142.6,1243 C146,1256 148,1268 151,1272.5 S160,1277 164,1277.5" fill="none" stroke="#5a5048" stroke-width="0.9"/><path d="M251.4,1272.4 C258,1266 262,1259 267.3,1256.5 S279,1256 283.3,1254.8 S291,1248 294.6,1243" fill="none" stroke="#6a625a" stroke-width="0.8"/></g>
<g clip-path="url(#cg2)"><rect x="31" y="1355.9" width="329" height="68.8" fill="#c3bbb3" /><rect x="229.3" y="1355.9" width="130.7" height="68.8" fill="#c6c1b9" /><line x1="54.76" y1="1355.9" x2="55.13" y2="1408.34" stroke="#ffffff" stroke-width="1.05" opacity="0.52"/><line x1="102.72" y1="1363.56" x2="102.2" y2="1424.7" stroke="#ffffff" stroke-width="0.9" opacity="0.32"/><line x1="141.54" y1="1376.49" x2="141.99" y2="1424.7" stroke="#ffffff" stroke-width="0.69" opacity="0.32"/><line x1="116.99" y1="1355.9" x2="116.83" y2="1405.05" stroke="#ffffff" stroke-width="0.53" opacity="0.36"/><line x1="53.36" y1="1355.9" x2="53.43" y2="1424.7" stroke="#ffffff" stroke-width="1.15" opacity="0.26"/><line x1="79.32" y1="1373.77" x2="78.97" y2="1408.6" stroke="#ffffff" stroke-width="0.89" opacity="0.29"/><line x1="165.69" y1="1355.9" x2="165.97" y2="1424.7" stroke="#ffffff" stroke-width="1.22" opacity="0.58"/><line x1="48.9" y1="1374.95" x2="48.79" y2="1424.7" stroke="#ffffff" stroke-width="0.88" opacity="0.61"/><line x1="82.4" y1="1355.9" x2="81.83" y2="1424.7" stroke="#ffffff" stroke-width="0.86" opacity="0.39"/><line x1="44.87" y1="1355.9" x2="44.93" y2="1424.7" stroke="#ffffff" stroke-width="1.07" opacity="0.7"/><line x1="135.25" y1="1355.9" x2="134.87" y2="1424.7" stroke="#ffffff" stroke-width="0.68" opacity="0.5"/><line x1="55.47" y1="1355.9" x2="55.24" y2="1424.7" stroke="#ffffff" stroke-width="0.78" opacity="0.66"/><line x1="46.25" y1="1355.9" x2="46.47" y2="1424.7" stroke="#ffffff" stroke-width="0.55" opacity="0.61"/><line x1="125.27" y1="1355.9" x2="125.83" y2="1424.7" stroke="#ffffff" stroke-width="1.22" opacity="0.68"/><line x1="113.49" y1="1355.9" x2="113.09" y2="1406.62" stroke="#ffffff" stroke-width="1.21" opacity="0.45"/><line x1="41.57" y1="1355.9" x2="41.03" y2="1424.7" stroke="#ffffff" stroke-width="1.14" opacity="0.59"/><line x1="67.6" y1="1357.33" x2="68.08" y2="1424.7" stroke="#ffffff" stroke-width="0.73" opacity="0.41"/><line x1="167.72" y1="1375.69" x2="167.99" y2="1424.7" stroke="#ffffff" stroke-width="1.1" opacity="0.44"/><line x1="35.91" y1="1355.9" x2="36.03" y2="1424.7" stroke="#ffffff" stroke-width="0.67" opacity="0.62"/><line x1="90.8" y1="1355.9" x2="90.53" y2="1424.7" stroke="#ffffff" stroke-width="0.96" opacity="0.62"/><line x1="138.02" y1="1355.9" x2="138.19" y2="1412.45" stroke="#ffffff" stroke-width="0.51" opacity="0.54"/><line x1="149.53" y1="1355.9" x2="150.02" y2="1424.7" stroke="#ffffff" stroke-width="0.97" opacity="0.33"/><line x1="50.43" y1="1365.12" x2="50.61" y2="1406.8" stroke="#ffffff" stroke-width="0.58" opacity="0.25"/><line x1="49.46" y1="1355.9" x2="49.08" y2="1421.27" stroke="#ffffff" stroke-width="0.93" opacity="0.36"/><line x1="84.14" y1="1370.57" x2="84.47" y2="1424.7" stroke="#ffffff" stroke-width="1.07" opacity="0.48"/><line x1="141.12" y1="1371.67" x2="140.82" y2="1410.01" stroke="#ffffff" stroke-width="0.51" opacity="0.43"/><line x1="353.65" y1="1355.9" x2="353.83" y2="1422.21" stroke="#ffffff" stroke-width="0.61" opacity="0.21"/><line x1="275.24" y1="1355.9" x2="275.36" y2="1424.7" stroke="#ffffff" stroke-width="1.21" opacity="0.32"/><line x1="350.31" y1="1355.9" x2="350.41" y2="1406.51" stroke="#ffffff" stroke-width="1.05" opacity="0.66"/><line x1="270.77" y1="1355.9" x2="271.1" y2="1424.7" stroke="#ffffff" stroke-width="0.65" opacity="0.62"/><line x1="354.03" y1="1355.9" x2="353.81" y2="1404.95" stroke="#ffffff" stroke-width="0.95" opacity="0.55"/><line x1="330.98" y1="1372.93" x2="330.6" y2="1424.7" stroke="#ffffff" stroke-width="1.26" opacity="0.53"/><line x1="237.29" y1="1355.9" x2="237.31" y2="1424.7" stroke="#ffffff" stroke-width="0.93" opacity="0.22"/><line x1="283.41" y1="1355.9" x2="283.51" y2="1424.7" stroke="#ffffff" stroke-width="1.03" opacity="0.66"/><line x1="269.06" y1="1355.9" x2="269.09" y2="1424.7" stroke="#ffffff" stroke-width="0.98" opacity="0.47"/><line x1="242.28" y1="1355.9" x2="242.79" y2="1424.7" stroke="#ffffff" stroke-width="1.3" opacity="0.38"/><line x1="352.88" y1="1374.38" x2="352.7" y2="1413.42" stroke="#ffffff" stroke-width="0.91" opacity="0.4"/><line x1="273.02" y1="1366.95" x2="273.2" y2="1424.7" stroke="#ffffff" stroke-width="0.79" opacity="0.3"/><line x1="256.79" y1="1355.9" x2="257.3" y2="1424.7" stroke="#ffffff" stroke-width="1.05" opacity="0.23"/><line x1="289.95" y1="1355.9" x2="290.54" y2="1424.7" stroke="#ffffff" stroke-width="1.18" opacity="0.45"/><line x1="326.19" y1="1355.9" x2="326.53" y2="1424.7" stroke="#ffffff" stroke-width="0.88" opacity="0.56"/><line x1="335.93" y1="1366.22" x2="335.74" y2="1424.7" stroke="#ffffff" stroke-width="0.99" opacity="0.67"/><line x1="252.94" y1="1356.76" x2="252.76" y2="1424.7" stroke="#ffffff" stroke-width="1.05" opacity="0.42"/><line x1="246.12" y1="1355.9" x2="245.63" y2="1419" stroke="#ffffff" stroke-width="0.67" opacity="0.33"/><line x1="291.15" y1="1355.9" x2="291.56" y2="1424.7" stroke="#ffffff" stroke-width="0.67" opacity="0.37"/><line x1="235.9" y1="1360.09" x2="235.76" y2="1424.7" stroke="#ffffff" stroke-width="0.8" opacity="0.62"/><line x1="327.04" y1="1360.66" x2="327.24" y2="1423.35" stroke="#ffffff" stroke-width="1.07" opacity="0.43"/><line x1="251.2" y1="1366.19" x2="250.65" y2="1424.7" stroke="#ffffff" stroke-width="1.21" opacity="0.52"/><line x1="293.3" y1="1368.94" x2="293.72" y2="1424.7" stroke="#ffffff" stroke-width="0.52" opacity="0.58"/><line x1="260.86" y1="1355.9" x2="261.25" y2="1424.7" stroke="#ffffff" stroke-width="0.93" opacity="0.27"/><line x1="232.16" y1="1372.47" x2="232.23" y2="1424.7" stroke="#ffffff" stroke-width="0.8" opacity="0.52"/><line x1="277.34" y1="1361.63" x2="277.36" y2="1407.39" stroke="#ffffff" stroke-width="1.18" opacity="0.46"/><line x1="320.17" y1="1364.27" x2="320.49" y2="1424.7" stroke="#ffffff" stroke-width="1.15" opacity="0.69"/><line x1="280.5" y1="1356.94" x2="280.19" y2="1424.7" stroke="#ffffff" stroke-width="1.02" opacity="0.3"/><line x1="297.26" y1="1355.9" x2="297.38" y2="1424.7" stroke="#ffffff" stroke-width="1.28" opacity="0.28"/><line x1="298.48" y1="1355.9" x2="298.85" y2="1424.7" stroke="#ffffff" stroke-width="1.11" opacity="0.21"/><rect x="31" y="1355.9" width="1" height="68.8" fill="#202020" /><rect x="170.9" y="1355.9" width="58.4" height="68.8" fill="#0e0e12" /><polygon points="91,1368.2 313,1369 312.8,1410.8 91,1412" fill="#cfd1d4" opacity="0.93"/><rect x="170.9" y="1368.5" width="58.4" height="43.1" fill="#8b9ca8" /><line x1="92" y1="1413" x2="312" y2="1411.8" stroke="#8e8982" stroke-width="1.2" opacity="0.7"/><line x1="164.36" y1="1376.46" x2="164.4" y2="1411" stroke="#ffffff" stroke-width="1.26" opacity="0.23"/><line x1="104.77" y1="1374.73" x2="105.02" y2="1409.92" stroke="#ffffff" stroke-width="0.65" opacity="0.17"/><line x1="126.59" y1="1369" x2="126.7" y2="1401.13" stroke="#ffffff" stroke-width="0.91" opacity="0.21"/><line x1="144.34" y1="1369" x2="144.19" y2="1411" stroke="#ffffff" stroke-width="1" opacity="0.25"/><line x1="137.9" y1="1374.97" x2="138.01" y2="1411" stroke="#ffffff" stroke-width="1.03" opacity="0.15"/><line x1="128.56" y1="1373.07" x2="128.19" y2="1411" stroke="#ffffff" stroke-width="1.01" opacity="0.13"/><line x1="103.57" y1="1376.22" x2="103.37" y2="1411" stroke="#ffffff" stroke-width="0.58" opacity="0.11"/><line x1="122.72" y1="1369" x2="122.43" y2="1411" stroke="#ffffff" stroke-width="0.73" opacity="0.15"/><line x1="287.56" y1="1369" x2="287.07" y2="1402.55" stroke="#ffffff" stroke-width="1.17" opacity="0.2"/><line x1="291.1" y1="1369" x2="291.03" y2="1411" stroke="#ffffff" stroke-width="0.62" opacity="0.36"/><line x1="299.53" y1="1369" x2="299.82" y2="1411" stroke="#ffffff" stroke-width="1.29" opacity="0.18"/><line x1="266.65" y1="1378.58" x2="266.24" y2="1411" stroke="#ffffff" stroke-width="0.74" opacity="0.44"/><line x1="257.5" y1="1369" x2="258.01" y2="1411" stroke="#ffffff" stroke-width="0.74" opacity="0.31"/><line x1="256.66" y1="1377.38" x2="257.04" y2="1411" stroke="#ffffff" stroke-width="1.22" opacity="0.17"/><line x1="309.37" y1="1369" x2="308.89" y2="1411" stroke="#ffffff" stroke-width="1.19" opacity="0.23"/><line x1="270.57" y1="1369" x2="271.13" y2="1411" stroke="#ffffff" stroke-width="0.62" opacity="0.19"/><line x1="242.25" y1="1369" x2="241.94" y2="1411" stroke="#ffffff" stroke-width="0.9" opacity="0.45"/><rect x="158" y="1379.4" width="13.4" height="18.4" fill="#d6d6d0" /><circle cx="162.5" cy="1385" r="3" fill="#f2f2ee" filter="url(#bl1)"/><circle cx="166.5" cy="1392" r="3" fill="#ecece8" filter="url(#bl1)"/><rect x="229.2" y="1381" width="11.6" height="16.8" fill="#d0d0cc" /><circle cx="237" cy="1390" r="2.4" fill="#9a9a96"/><circle cx="237" cy="1390" r="1.1" fill="#e8e8e4"/><path d="M173,1398.69 V1381.91 A1.51 1.51 0 0 1 176.03,1381.91 V1398.69 A1.51 1.51 0 0 0 179.06,1398.69 V1381.91 A1.51 1.51 0 0 1 182.08,1381.91 V1398.69 A1.51 1.51 0 0 0 185.11,1398.69 V1381.91 A1.51 1.51 0 0 1 188.14,1381.91 V1398.69 A1.51 1.51 0 0 0 191.17,1398.69 V1381.91 A1.51 1.51 0 0 1 194.19,1381.91 V1398.69 A1.51 1.51 0 0 0 197.22,1398.69 V1381.91 A1.51 1.51 0 0 1 200.25,1381.91 V1398.69 A1.51 1.51 0 0 0 203.28,1398.69 V1381.91 A1.51 1.51 0 0 1 206.31,1381.91 V1398.69 A1.51 1.51 0 0 0 209.33,1398.69 V1381.91 A1.51 1.51 0 0 1 212.36,1381.91 V1398.69 A1.51 1.51 0 0 0 215.39,1398.69 V1381.91 A1.51 1.51 0 0 1 218.42,1381.91 V1398.69 A1.51 1.51 0 0 0 221.44,1398.69 V1381.91 A1.51 1.51 0 0 1 224.47,1381.91 V1398.69 A1.51 1.51 0 0 0 227.5,1398.69" fill="none" stroke="#c4d0da" stroke-width="0.7"/><path d="M123.6,1355.9 C129,1362 133,1366 137,1370 S150,1384 157.2,1387.7" fill="none" stroke="#4a3a30" stroke-width="0.9"/><path d="M232.6,1355.9 C238,1363 242,1368 244.8,1373 S251.5,1381 250.2,1385 S248,1392.5 239.4,1392" fill="none" stroke="#4a3a30" stroke-width="0.9"/></g>
<g clip-path="url(#cg3)"><rect x="378" y="1243" width="353" height="68.8" fill="#050505" /><polygon points="383,1262.2 445.5,1262 451,1266.8 460,1267 460,1294 452,1295.5 447.5,1299.6 384.5,1299.4" fill="#c8d48a" /><rect x="383.2" y="1262.2" width="62.8" height="21.3" fill="url(#g3a)" /><rect x="391" y="1271.5" width="52" height="12.5" fill="#6e6438" opacity="0.65" filter="url(#bl2)"/><rect x="384" y="1266.5" width="60" height="3.5" fill="#e4e8c4" opacity="0.8" filter="url(#bl1)"/><rect x="383.8" y="1284.5" width="63.2" height="14.9" fill="#c6d684" /><rect x="386" y="1291" width="54" height="7" fill="#a4b870" opacity="0.8" filter="url(#bl2)"/><rect x="455" y="1266.8" width="185" height="13.7" fill="#ccd4a4" /><rect x="472" y="1267.3" width="164" height="12.2" fill="#dde4c0" opacity="0.8" filter="url(#bl1)"/><rect x="458" y="1280" width="182" height="13.8" fill="url(#g3n)" /><rect x="470" y="1286.5" width="162" height="3" fill="#c0cc8c" opacity="0.75" filter="url(#bl1)"/><polygon points="446,1262 452,1266.8 461,1267 463,1283 459,1294 452,1295.5 447.5,1299.6 447,1284" fill="#c8d294" /><polygon points="635,1269.1 639.5,1263 703.3,1264.1 726,1286.3 660.8,1285.4" fill="url(#g3r)" /><polygon points="641,1264.2 702.5,1265.2 706,1268.6 643,1267.6" fill="#c4d890" opacity="0.9"/><polygon points="660.8,1285.4 726,1286.3 723,1301 659.3,1299.9" fill="#bcd488" /><polygon points="635,1269.1 660.8,1285.4 659.3,1299.9 641,1293.6 632,1293.6 632,1270" fill="#cbdc9c" /><rect x="520" y="1268.6" width="66" height="11" fill="#d4d8c4" opacity="0.85"/><path d="M526,1276.25 V1271.55 A1.35 1.35 0 0 1 528.7,1271.55 V1276.25 A1.35 1.35 0 0 0 531.4,1276.25 V1271.55 A1.35 1.35 0 0 1 534.1,1271.55 V1276.25 A1.35 1.35 0 0 0 536.8,1276.25 V1271.55 A1.35 1.35 0 0 1 539.5,1271.55 V1276.25 A1.35 1.35 0 0 0 542.2,1276.25 V1271.55 A1.35 1.35 0 0 1 544.9,1271.55 V1276.25 A1.35 1.35 0 0 0 547.6,1276.25 V1271.55 A1.35 1.35 0 0 1 550.3,1271.55 V1276.25 A1.35 1.35 0 0 0 553,1276.25 V1271.55 A1.35 1.35 0 0 1 555.7,1271.55 V1276.25 A1.35 1.35 0 0 0 558.4,1276.25 V1271.55 A1.35 1.35 0 0 1 561.1,1271.55 V1276.25 A1.35 1.35 0 0 0 563.8,1276.25 V1271.55 A1.35 1.35 0 0 1 566.5,1271.55 V1276.25 A1.35 1.35 0 0 0 569.2,1276.25 V1271.55 A1.35 1.35 0 0 1 571.9,1271.55 V1276.25 A1.35 1.35 0 0 0 574.6,1276.25 V1271.55 A1.35 1.35 0 0 1 577.3,1271.55 V1276.25 A1.35 1.35 0 0 0 580,1276.25" fill="none" stroke="#4a5038" stroke-width="0.9"/><rect x="516.5" y="1269.2" width="8" height="5" fill="#f4f4f0" /><rect x="579.5" y="1269" width="8.5" height="5" fill="#f4f4f0" /><path d="M504.5,1243 C507,1252 511,1262 517.5,1269.5" fill="none" stroke="#a86848" stroke-width="0.9"/><path d="M613.4,1243 C613.5,1250 612.5,1254 610.7,1257.7 S606,1265 601.6,1266.8 S593,1268.5 588,1269.4" fill="none" stroke="#9a6a50" stroke-width="0.9"/></g>
<g clip-path="url(#cg4)"><rect x="378" y="1355.8" width="353" height="68.6" fill="#050505" /><rect x="720" y="1355.8" width="11" height="68.6" fill="#121212" /><polygon points="415.3,1372 470.6,1372.5 457,1394 393.2,1393.3" fill="url(#g4a)" /><polygon points="419,1374.2 452,1374.6 449,1380 415,1379.6" fill="#cfcfb0" opacity="0.8" filter="url(#bl1)"/><polygon points="393.2,1393.3 457,1394 456.2,1408.4 394.8,1406.9" fill="#c6d28e" /><polygon points="398,1399 450,1399.5 450,1406 399,1405" fill="#aabc78" opacity="0.8" filter="url(#bl2)"/><polygon points="457,1394 476,1388.5 476,1402 456.2,1408.4" fill="#d6de9e" /><rect x="474" y="1388.5" width="177" height="14.8" fill="#c4d08c" /><rect x="478" y="1391" width="162" height="3.2" fill="#7c9048" opacity="0.85" filter="url(#bl1)"/><rect x="478" y="1397.5" width="162" height="2" fill="#90a45c" opacity="0.8" filter="url(#bl1)"/><polygon points="654.7,1375 714.7,1376.1 713.2,1397 650.2,1395.5" fill="#c4d090" /><polygon points="660.8,1385 712.4,1386 712,1396.3 660,1395.6" fill="#5e7438" filter="url(#bl1)"/><polygon points="657,1377 713.5,1378 713.3,1381 657,1380" fill="#a8b870" opacity="0.9"/><polygon points="650.2,1395.5 713.2,1397 712.7,1412.2 650.9,1410.7" fill="#bed488" /><polygon points="641,1394 650.2,1395.5 650.9,1410.7 642.6,1403.9" fill="#d2de9c" /><polygon points="466.1,1372.8 654.7,1373.6 654.7,1390.2 463.1,1388.2 458.5,1382.6" fill="#e6e8ea" /><polygon points="520,1383 648,1384 648,1389.5 520,1388.4" fill="#f4f5f6" opacity="0.9" filter="url(#bl1)"/><path d="M538,1380.16 V1377.74 A1.44 1.44 0 0 1 540.88,1377.74 V1380.16 A1.44 1.44 0 0 0 543.75,1380.16 V1377.74 A1.44 1.44 0 0 1 546.62,1377.74 V1380.16 A1.44 1.44 0 0 0 549.5,1380.16 V1377.74 A1.44 1.44 0 0 1 552.38,1377.74 V1380.16 A1.44 1.44 0 0 0 555.25,1380.16 V1377.74 A1.44 1.44 0 0 1 558.12,1377.74 V1380.16 A1.44 1.44 0 0 0 561,1380.16 V1377.74 A1.44 1.44 0 0 1 563.88,1377.74 V1380.16 A1.44 1.44 0 0 0 566.75,1380.16 V1377.74 A1.44 1.44 0 0 1 569.62,1377.74 V1380.16 A1.44 1.44 0 0 0 572.5,1380.16 V1377.74 A1.44 1.44 0 0 1 575.38,1377.74 V1380.16 A1.44 1.44 0 0 0 578.25,1380.16 V1377.74 A1.44 1.44 0 0 1 581.12,1377.74 V1380.16 A1.44 1.44 0 0 0 584,1380.16" fill="none" stroke="#8a8e90" stroke-width="0.9"/><ellipse cx="531" cy="1379.5" rx="6" ry="2.8" fill="none" stroke="#9a9ea0" stroke-width="0.9"/><ellipse cx="592" cy="1379" rx="6" ry="2.8" fill="none" stroke="#9a9ea0" stroke-width="0.9"/><path d="M510.1,1355.8 C510.5,1362 512,1368 514.8,1373" fill="none" stroke="#c8b0a0" stroke-width="0.9"/><path d="M608.4,1355.8 C607.5,1362 606,1368 603,1373 S598,1378 596,1379" fill="none" stroke="#c06850" stroke-width="0.9"/></g>
<text x="140" y="1337.3" font-family="'Liberation Sans', Arial, sans-serif" font-size="24.2" fill="#0000ff" >free &amp; thin</text>
<text x="134" y="1449" font-family="'Liberation Sans', Arial, sans-serif" font-size="24.2" fill="#0000ff" >free &amp; thick</text>
<text x="475.8" y="1337.6" font-family="'Liberation Sans', Arial, sans-serif" font-size="24.2" fill="#ff0000" >bonded &amp; thin</text>
<text x="470.3" y="1449" font-family="'Liberation Sans', Arial, sans-serif" font-size="24.2" fill="#ff0000" >bonded &amp; thick</text>
</g>
</svg>
</body></html>
